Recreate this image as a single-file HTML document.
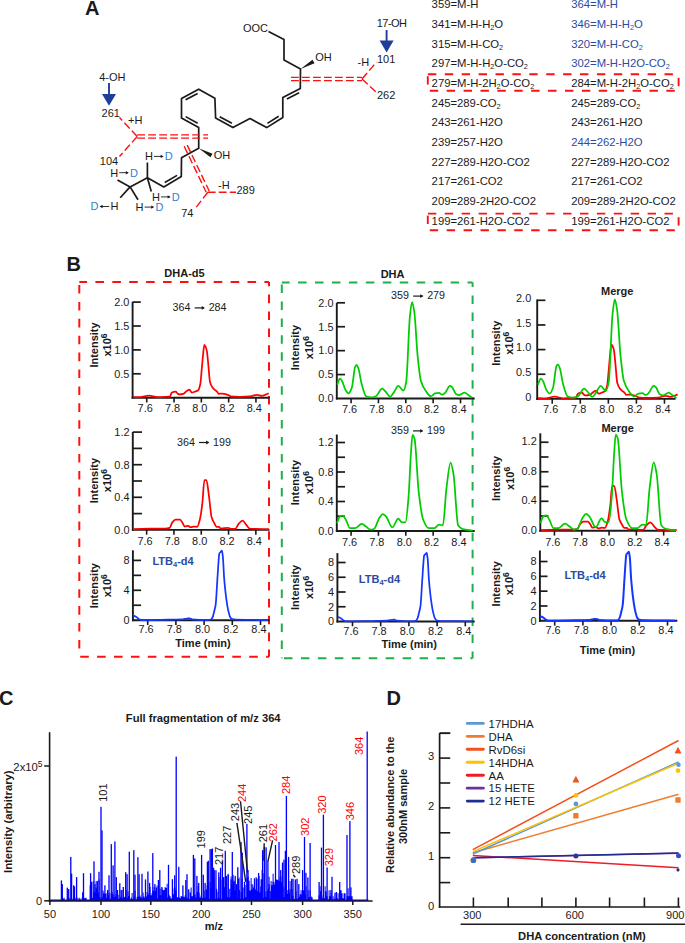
<!DOCTYPE html>
<html><head><meta charset="utf-8"><style>
html,body{margin:0;padding:0;background:#fff;width:685px;height:943px;overflow:hidden}
svg{display:block}
text{font-family:"Liberation Sans", sans-serif}
</style></head><body>
<svg width="685" height="943" viewBox="0 0 685 943" font-family='"Liberation Sans", sans-serif'>
<text x="85.00" y="14.80" font-size="20" font-weight="bold" fill="#1a1a1a" text-anchor="start" >A</text>
<polyline points="268.50,31.50 284.00,39.50 284.00,60.00 300.50,69.00 300.30,88.50 282.80,97.50 282.80,117.50 266.70,127.60 250.00,118.60 232.90,127.60 215.60,118.00 214.90,98.20 198.70,89.20 181.50,98.40 181.50,118.00 198.70,127.50 198.70,148.30 181.50,157.80 181.30,176.60 163.80,186.90 147.40,177.70 130.10,186.90" fill="none" stroke="#1a1a1a" stroke-width="1.7" stroke-linejoin="round" />
<line x1="299.14" y1="92.70" x2="286.89" y2="99.00" stroke="#1a1a1a" stroke-width="1.7" />
<line x1="278.68" y1="116.30" x2="267.41" y2="123.37" stroke="#1a1a1a" stroke-width="1.7" />
<line x1="231.86" y1="123.36" x2="219.75" y2="116.64" stroke="#1a1a1a" stroke-width="1.7" />
<line x1="197.63" y1="93.40" x2="185.59" y2="99.84" stroke="#1a1a1a" stroke-width="1.7" />
<line x1="185.63" y1="116.62" x2="197.67" y2="123.27" stroke="#1a1a1a" stroke-width="1.7" />
<line x1="177.05" y1="175.39" x2="164.80" y2="182.60" stroke="#1a1a1a" stroke-width="1.7" />
<polygon points="300.50,69.00 314.55,63.32 312.45,59.68" fill="#1a1a1a"/>
<polygon points="198.70,148.30 210.47,157.33 212.53,153.67" fill="#1a1a1a"/>
<line x1="147.40" y1="177.70" x2="147.40" y2="162.50" stroke="#1a1a1a" stroke-width="1.7" />
<line x1="147.40" y1="177.70" x2="151.30" y2="191.50" stroke="#1a1a1a" stroke-width="1.7" />
<line x1="130.10" y1="186.90" x2="117.50" y2="180.00" stroke="#1a1a1a" stroke-width="1.7" />
<line x1="130.10" y1="186.90" x2="120.20" y2="197.80" stroke="#1a1a1a" stroke-width="1.7" />
<line x1="130.10" y1="186.90" x2="138.00" y2="199.80" stroke="#1a1a1a" stroke-width="1.7" />
<line x1="291.00" y1="77.40" x2="362.00" y2="77.40" stroke="#ff1010" stroke-width="1.4" stroke-dasharray="7.8 3.2"/>
<line x1="291.00" y1="80.60" x2="362.00" y2="80.60" stroke="#ff1010" stroke-width="1.4" stroke-dasharray="7.8 3.2"/>
<line x1="362.00" y1="79.00" x2="376.50" y2="62.00" stroke="#ff1010" stroke-width="1.4" stroke-dasharray="7.8 3.2"/>
<line x1="362.00" y1="79.00" x2="376.50" y2="92.50" stroke="#ff1010" stroke-width="1.4" stroke-dasharray="7.8 3.2"/>
<line x1="137.20" y1="134.90" x2="208.00" y2="134.90" stroke="#ff1010" stroke-width="1.4" stroke-dasharray="7.8 3.2"/>
<line x1="137.20" y1="138.10" x2="208.00" y2="138.10" stroke="#ff1010" stroke-width="1.4" stroke-dasharray="7.8 3.2"/>
<line x1="137.20" y1="136.50" x2="119.50" y2="117.50" stroke="#ff1010" stroke-width="1.4" stroke-dasharray="7.8 3.2"/>
<line x1="137.20" y1="136.50" x2="119.50" y2="156.50" stroke="#ff1010" stroke-width="1.4" stroke-dasharray="7.8 3.2"/>
<line x1="184.20" y1="146.30" x2="206.20" y2="192.20" stroke="#ff1010" stroke-width="1.4" stroke-dasharray="7.8 3.2"/>
<line x1="187.20" y1="145.10" x2="209.20" y2="191.00" stroke="#ff1010" stroke-width="1.4" stroke-dasharray="7.8 3.2"/>
<line x1="207.80" y1="192.20" x2="236.00" y2="192.20" stroke="#ff1010" stroke-width="1.4" stroke-dasharray="7.8 3.2"/>
<line x1="207.80" y1="192.20" x2="195.20" y2="208.50" stroke="#ff1010" stroke-width="1.4" stroke-dasharray="7.8 3.2"/>
<line x1="109.00" y1="83.00" x2="109.00" y2="94.90" stroke="#1f3d99" stroke-width="1.9" />
<polygon points="102.00,93.90 116.00,93.90 109.00,105.70" fill="#1f3d99"/>
<line x1="386.60" y1="30.00" x2="386.60" y2="41.60" stroke="#1f3d99" stroke-width="1.9" />
<polygon points="379.60,40.60 393.60,40.60 386.60,52.60" fill="#1f3d99"/>
<text x="243.00" y="32.40" font-size="11" font-weight="normal" fill="#1a1a1a" text-anchor="start" >OOC</text>
<text x="315.20" y="61.30" font-size="11" font-weight="normal" fill="#1a1a1a" text-anchor="start" >OH</text>
<text x="376.80" y="26.60" font-size="11" font-weight="normal" fill="#1a1a1a" text-anchor="start" letter-spacing="-0.55">17-OH</text>
<text x="357.60" y="66.20" font-size="11" font-weight="normal" fill="#1a1a1a" text-anchor="start" >-H</text>
<text x="377.00" y="63.40" font-size="11" font-weight="normal" fill="#1a1a1a" text-anchor="start" >101</text>
<text x="377.00" y="98.60" font-size="11" font-weight="normal" fill="#1a1a1a" text-anchor="start" >262</text>
<text x="99.20" y="81.20" font-size="11" font-weight="normal" fill="#1a1a1a" text-anchor="start" >4-OH</text>
<text x="101.60" y="116.70" font-size="11" font-weight="normal" fill="#1a1a1a" text-anchor="start" >261</text>
<text x="128.10" y="123.90" font-size="11" font-weight="normal" fill="#1a1a1a" text-anchor="start" >+H</text>
<text x="99.80" y="165.00" font-size="11" font-weight="normal" fill="#1a1a1a" text-anchor="start" >104</text>
<text x="213.80" y="158.90" font-size="11" font-weight="normal" fill="#1a1a1a" text-anchor="start" >OH</text>
<text x="218.00" y="188.50" font-size="11" font-weight="normal" fill="#1a1a1a" text-anchor="start" >-H</text>
<text x="236.40" y="194.00" font-size="11" font-weight="normal" fill="#1a1a1a" text-anchor="start" >289</text>
<text x="181.20" y="216.90" font-size="11" font-weight="normal" fill="#1a1a1a" text-anchor="start" >74</text>
<text x="145.00" y="160.30" font-size="11" fill="#1a1a1a">H</text>
<line x1="154.00" y1="156.40" x2="162.60" y2="156.40" stroke="#1a1a1a" stroke-width="0.9"/>
<polygon points="160.60,154.70 163.60,156.40 160.60,158.10" fill="#1a1a1a"/>
<text x="164.80" y="160.30" font-size="11" fill="#2f80d0">D</text>
<text x="110.20" y="176.60" font-size="11" fill="#1a1a1a">H</text>
<line x1="119.20" y1="172.70" x2="127.80" y2="172.70" stroke="#1a1a1a" stroke-width="0.9"/>
<polygon points="125.80,171.00 128.80,172.70 125.80,174.40" fill="#1a1a1a"/>
<text x="130.00" y="176.60" font-size="11" fill="#2f80d0">D</text>
<text x="152.00" y="200.80" font-size="11" fill="#1a1a1a">H</text>
<line x1="161.00" y1="196.90" x2="169.60" y2="196.90" stroke="#1a1a1a" stroke-width="0.9"/>
<polygon points="167.60,195.20 170.60,196.90 167.60,198.60" fill="#1a1a1a"/>
<text x="171.80" y="200.80" font-size="11" fill="#2f80d0">D</text>
<text x="135.60" y="211.00" font-size="11" fill="#1a1a1a">H</text>
<line x1="144.60" y1="207.10" x2="153.20" y2="207.10" stroke="#1a1a1a" stroke-width="0.9"/>
<polygon points="151.20,205.40 154.20,207.10 151.20,208.80" fill="#1a1a1a"/>
<text x="155.40" y="211.00" font-size="11" fill="#2f80d0">D</text>
<text x="90.60" y="210.40" font-size="11" fill="#2f80d0">D</text>
<line x1="100.60" y1="206.50" x2="109.20" y2="206.50" stroke="#1a1a1a" stroke-width="0.9"/>
<polygon points="102.60,204.80 99.60,206.50 102.60,208.20" fill="#1a1a1a"/>
<text x="110.40" y="210.40" font-size="11" fill="#1a1a1a">H</text>
<text x="431.60" y="8.10" font-size="11.3" font-weight="normal" fill="#1a1a1a" text-anchor="start" >359=M-H</text>
<text x="571.20" y="8.10" font-size="11.3" font-weight="normal" fill="#2b4b9f" text-anchor="start" >364=M-H</text>
<text x="431.60" y="27.80" font-size="11.3" font-weight="normal" fill="#1a1a1a" text-anchor="start" >341=M-H-H<tspan font-size="7.3" dy="2.0">2</tspan><tspan dy="-2.0">​</tspan>O</text>
<text x="571.20" y="27.80" font-size="11.3" font-weight="normal" fill="#2b4b9f" text-anchor="start" >346=M-H-H<tspan font-size="7.3" dy="2.0">2</tspan><tspan dy="-2.0">​</tspan>O</text>
<text x="431.60" y="47.50" font-size="11.3" font-weight="normal" fill="#1a1a1a" text-anchor="start" >315=M-H-CO<tspan font-size="7.3" dy="2.0">2</tspan><tspan dy="-2.0">​</tspan></text>
<text x="571.20" y="47.50" font-size="11.3" font-weight="normal" fill="#2b4b9f" text-anchor="start" >320=M-H-CO<tspan font-size="7.3" dy="2.0">2</tspan><tspan dy="-2.0">​</tspan></text>
<text x="431.60" y="67.20" font-size="11.3" font-weight="normal" fill="#1a1a1a" text-anchor="start" >297=M-H-H<tspan font-size="7.3" dy="2.0">2</tspan><tspan dy="-2.0">​</tspan>O-CO<tspan font-size="7.3" dy="2.0">2</tspan><tspan dy="-2.0">​</tspan></text>
<text x="571.20" y="67.20" font-size="11.3" font-weight="normal" fill="#2b4b9f" text-anchor="start" >302=M-H-H2O-CO<tspan font-size="7.3" dy="2.0">2</tspan><tspan dy="-2.0">​</tspan></text>
<text x="431.60" y="86.90" font-size="11.3" font-weight="normal" fill="#1a1a1a" text-anchor="start" >279=M-H-2H<tspan font-size="7.3" dy="2.0">2</tspan><tspan dy="-2.0">​</tspan>O-CO<tspan font-size="7.3" dy="2.0">2</tspan><tspan dy="-2.0">​</tspan></text>
<text x="571.20" y="86.90" font-size="11.3" font-weight="normal" fill="#1a1a1a" text-anchor="start" >284=M-H-2H<tspan font-size="7.3" dy="2.0">2</tspan><tspan dy="-2.0">​</tspan>O-CO<tspan font-size="7.3" dy="2.0">2</tspan><tspan dy="-2.0">​</tspan></text>
<text x="431.60" y="106.60" font-size="11.3" font-weight="normal" fill="#1a1a1a" text-anchor="start" >245=289-CO<tspan font-size="7.3" dy="2.0">2</tspan><tspan dy="-2.0">​</tspan></text>
<text x="571.20" y="106.60" font-size="11.3" font-weight="normal" fill="#1a1a1a" text-anchor="start" >245=289-CO<tspan font-size="7.3" dy="2.0">2</tspan><tspan dy="-2.0">​</tspan></text>
<text x="431.60" y="126.30" font-size="11.3" font-weight="normal" fill="#1a1a1a" text-anchor="start" >243=261-H2O</text>
<text x="571.20" y="126.30" font-size="11.3" font-weight="normal" fill="#1a1a1a" text-anchor="start" >243=261-H2O</text>
<text x="431.60" y="146.00" font-size="11.3" font-weight="normal" fill="#1a1a1a" text-anchor="start" >239=257-H2O</text>
<text x="571.20" y="146.00" font-size="11.3" font-weight="normal" fill="#2b4b9f" text-anchor="start" >244=262-H2O</text>
<text x="431.60" y="165.70" font-size="11.3" font-weight="normal" fill="#1a1a1a" text-anchor="start" >227=289-H2O-CO2</text>
<text x="571.20" y="165.70" font-size="11.3" font-weight="normal" fill="#1a1a1a" text-anchor="start" >227=289-H2O-CO2</text>
<text x="431.60" y="185.40" font-size="11.3" font-weight="normal" fill="#1a1a1a" text-anchor="start" >217=261-CO2</text>
<text x="571.20" y="185.40" font-size="11.3" font-weight="normal" fill="#1a1a1a" text-anchor="start" >217=261-CO2</text>
<text x="431.60" y="205.10" font-size="11.3" font-weight="normal" fill="#1a1a1a" text-anchor="start" >209=289-2H2O-CO2</text>
<text x="571.20" y="205.10" font-size="11.3" font-weight="normal" fill="#1a1a1a" text-anchor="start" >209=289-2H2O-CO2</text>
<text x="431.60" y="224.80" font-size="11.3" font-weight="normal" fill="#1a1a1a" text-anchor="start" >199=261-H2O-CO2</text>
<text x="571.20" y="224.80" font-size="11.3" font-weight="normal" fill="#1a1a1a" text-anchor="start" >199=261-H2O-CO2</text>
<line x1="427.80" y1="74.20" x2="678.60" y2="74.20" stroke="#ff1010" stroke-width="1.9" stroke-dasharray="8.4 8.5" stroke-dashoffset="16.80"/>
<line x1="678.60" y1="74.20" x2="678.60" y2="90.80" stroke="#ff1010" stroke-width="1.9" stroke-dasharray="8.4 8.5" stroke-dashoffset="13.30"/>
<line x1="427.80" y1="90.80" x2="678.60" y2="90.80" stroke="#ff1010" stroke-width="1.9" stroke-dasharray="8.4 8.5" stroke-dashoffset="14.90"/>
<line x1="427.80" y1="74.20" x2="427.80" y2="90.80" stroke="#ff1010" stroke-width="1.9" stroke-dasharray="8.4 8.5" stroke-dashoffset="14.90"/>
<line x1="427.80" y1="213.60" x2="678.60" y2="213.60" stroke="#ff1010" stroke-width="1.9" stroke-dasharray="8.4 8.5" stroke-dashoffset="16.80"/>
<line x1="678.60" y1="213.60" x2="678.60" y2="230.20" stroke="#ff1010" stroke-width="1.9" stroke-dasharray="8.4 8.5" stroke-dashoffset="13.30"/>
<line x1="427.80" y1="230.20" x2="678.60" y2="230.20" stroke="#ff1010" stroke-width="1.9" stroke-dasharray="8.4 8.5" stroke-dashoffset="14.90"/>
<line x1="427.80" y1="213.60" x2="427.80" y2="230.20" stroke="#ff1010" stroke-width="1.9" stroke-dasharray="8.4 8.5" stroke-dashoffset="14.90"/>
<text x="66.60" y="270.80" font-size="20" font-weight="bold" fill="#1a1a1a" text-anchor="start" >B</text>
<line x1="79.30" y1="282.00" x2="269.00" y2="282.00" stroke="#ff1010" stroke-width="2.0" stroke-dasharray="8.6 8.3" stroke-dashoffset="0.80"/>
<line x1="269.00" y1="282.00" x2="269.00" y2="656.80" stroke="#ff1010" stroke-width="2.0" stroke-dasharray="8.6 8.3" stroke-dashoffset="4.30"/>
<line x1="79.30" y1="656.80" x2="269.00" y2="656.80" stroke="#ff1010" stroke-width="2.0" stroke-dasharray="8.6 8.3" stroke-dashoffset="16.00"/>
<line x1="79.30" y1="282.00" x2="79.30" y2="656.80" stroke="#ff1010" stroke-width="2.0" stroke-dasharray="8.6 8.3" stroke-dashoffset="13.90"/>
<line x1="281.80" y1="282.60" x2="472.60" y2="282.60" stroke="#1fb04b" stroke-width="2.0" stroke-dasharray="8.5 8.45" stroke-dashoffset="0.70"/>
<line x1="472.60" y1="282.60" x2="472.60" y2="658.20" stroke="#1fb04b" stroke-width="2.0" stroke-dasharray="8.5 8.45" stroke-dashoffset="4.00"/>
<line x1="281.80" y1="658.20" x2="472.60" y2="658.20" stroke="#1fb04b" stroke-width="2.0" stroke-dasharray="8.5 8.45" stroke-dashoffset="14.75"/>
<line x1="281.80" y1="282.60" x2="281.80" y2="658.20" stroke="#1fb04b" stroke-width="2.0" stroke-dasharray="8.5 8.45" stroke-dashoffset="15.05"/>
<text x="184.50" y="276.80" font-size="11" font-weight="bold" fill="#1a1a1a" text-anchor="middle" >DHA-d5</text>
<text x="392.60" y="277.80" font-size="11" font-weight="bold" fill="#1a1a1a" text-anchor="middle" >DHA</text>
<line x1="132.60" y1="301.80" x2="132.60" y2="398.70" stroke="#1a1a1a" stroke-width="1.9" />
<line x1="131.70" y1="397.70" x2="269.50" y2="397.70" stroke="#1a1a1a" stroke-width="1.9" />
<line x1="132.60" y1="373.80" x2="140.80" y2="373.80" stroke="#1a1a1a" stroke-width="1.7" />
<line x1="132.60" y1="349.90" x2="140.80" y2="349.90" stroke="#1a1a1a" stroke-width="1.7" />
<line x1="132.60" y1="326.00" x2="140.80" y2="326.00" stroke="#1a1a1a" stroke-width="1.7" />
<line x1="132.60" y1="302.10" x2="140.80" y2="302.10" stroke="#1a1a1a" stroke-width="1.7" />
<text x="129.30" y="305.90" font-size="10.9" font-weight="normal" fill="#1a1a1a" text-anchor="end" >2.0</text>
<text x="129.30" y="329.80" font-size="10.9" font-weight="normal" fill="#1a1a1a" text-anchor="end" >1.5</text>
<text x="129.30" y="353.70" font-size="10.9" font-weight="normal" fill="#1a1a1a" text-anchor="end" >1.0</text>
<text x="129.30" y="377.60" font-size="10.9" font-weight="normal" fill="#1a1a1a" text-anchor="end" >0.5</text>
<line x1="146.75" y1="397.70" x2="146.75" y2="402.50" stroke="#1a1a1a" stroke-width="1.6" />
<text x="145.15" y="412.30" font-size="10.9" font-weight="normal" fill="#1a1a1a" text-anchor="middle" >7.6</text>
<line x1="174.05" y1="397.70" x2="174.05" y2="402.50" stroke="#1a1a1a" stroke-width="1.6" />
<text x="172.45" y="412.30" font-size="10.9" font-weight="normal" fill="#1a1a1a" text-anchor="middle" >7.8</text>
<line x1="201.35" y1="397.70" x2="201.35" y2="402.50" stroke="#1a1a1a" stroke-width="1.6" />
<text x="199.75" y="412.30" font-size="10.9" font-weight="normal" fill="#1a1a1a" text-anchor="middle" >8.0</text>
<line x1="228.65" y1="397.70" x2="228.65" y2="402.50" stroke="#1a1a1a" stroke-width="1.6" />
<text x="227.05" y="412.30" font-size="10.9" font-weight="normal" fill="#1a1a1a" text-anchor="middle" >8.2</text>
<line x1="255.95" y1="397.70" x2="255.95" y2="402.50" stroke="#1a1a1a" stroke-width="1.6" />
<text x="254.35" y="412.30" font-size="10.9" font-weight="normal" fill="#1a1a1a" text-anchor="middle" >8.4</text>
<path d="M133.00,396.90 C135.33,397.00 137.67,397.20 140.00,397.20 C143.00,397.20 146.00,395.60 149.00,395.60 C151.83,395.60 154.67,397.10 157.50,397.10 C160.00,397.10 162.50,396.95 165.00,396.80 C166.70,396.70 168.40,396.68 170.10,396.30 C170.60,396.19 171.10,392.95 171.60,392.70 C172.97,392.01 174.33,391.70 175.70,391.70 C176.40,391.70 177.10,393.46 177.80,393.80 C178.30,394.04 178.80,394.30 179.30,394.30 C180.67,394.30 182.03,394.10 183.40,393.80 C184.43,393.57 185.47,391.85 186.50,391.20 C187.50,390.57 188.50,389.70 189.50,389.70 C190.27,389.70 191.03,392.70 191.80,392.70 C192.73,392.70 193.67,392.06 194.60,391.70 C195.80,391.24 197.00,391.14 198.20,390.20 C198.90,389.65 199.60,387.31 200.30,384.00 C200.80,381.64 201.30,374.02 201.80,368.70 C202.20,364.44 202.60,359.15 203.00,355.40 C203.43,351.34 203.87,344.90 204.30,344.90 C204.83,344.90 205.37,346.25 205.90,347.50 C206.23,348.28 206.57,349.54 206.90,351.30 C207.40,353.95 207.90,360.76 208.40,365.70 C208.93,370.97 209.47,379.95 210.00,382.00 C210.83,385.21 211.67,386.44 212.50,387.60 C213.37,388.80 214.23,389.46 215.10,390.20 C215.77,390.77 216.43,391.04 217.10,391.70 C217.60,392.20 218.10,393.80 218.60,393.80 C219.80,393.80 221.00,393.50 222.20,393.50 C223.57,393.50 224.93,393.94 226.30,394.30 C227.17,394.53 228.03,394.87 228.90,395.30 C229.40,395.55 229.90,396.24 230.40,396.30 C233.60,396.69 236.80,396.80 240.00,396.80 C243.33,396.80 246.67,396.64 250.00,396.40 C252.33,396.23 254.67,394.80 257.00,394.80 C258.67,394.80 260.33,395.80 262.00,395.80 C264.23,395.80 266.47,394.13 268.70,393.30" fill="none" stroke="#ff0000" stroke-width="1.75" stroke-linejoin="round"/>
<text x="172.60" y="311.00" font-size="10.7" fill="#1a1a1a">364</text>
<line x1="194.65" y1="307.90" x2="203.95" y2="307.90" stroke="#1a1a1a" stroke-width="1.2"/>
<polygon points="201.75,306.00 204.95,307.90 201.75,309.80" fill="#1a1a1a"/>
<text x="208.65" y="311.00" font-size="10.7" fill="#1a1a1a">284</text>
<text transform="translate(98.00,345.00) rotate(-90)" font-size="11" font-weight="bold" fill="#1a1a1a" text-anchor="middle">Intensity</text>
<text transform="translate(111.30,345.00) rotate(-90)" font-size="11" font-weight="bold" fill="#1a1a1a" text-anchor="middle">x10<tspan font-size="8.5" dy="-4">6</tspan></text>
<line x1="132.80" y1="432.00" x2="132.80" y2="530.90" stroke="#1a1a1a" stroke-width="1.9" />
<line x1="131.90" y1="529.90" x2="269.50" y2="529.90" stroke="#1a1a1a" stroke-width="1.9" />
<line x1="132.80" y1="513.60" x2="142.00" y2="513.60" stroke="#1a1a1a" stroke-width="1.7" />
<line x1="132.80" y1="497.30" x2="142.00" y2="497.30" stroke="#1a1a1a" stroke-width="1.7" />
<line x1="132.80" y1="481.00" x2="142.00" y2="481.00" stroke="#1a1a1a" stroke-width="1.7" />
<line x1="132.80" y1="464.70" x2="142.00" y2="464.70" stroke="#1a1a1a" stroke-width="1.7" />
<line x1="132.80" y1="448.40" x2="142.00" y2="448.40" stroke="#1a1a1a" stroke-width="1.7" />
<line x1="132.80" y1="432.10" x2="142.00" y2="432.10" stroke="#1a1a1a" stroke-width="1.7" />
<text x="129.50" y="435.90" font-size="10.9" font-weight="normal" fill="#1a1a1a" text-anchor="end" >1.2</text>
<text x="129.50" y="468.50" font-size="10.9" font-weight="normal" fill="#1a1a1a" text-anchor="end" >0.8</text>
<text x="129.50" y="501.10" font-size="10.9" font-weight="normal" fill="#1a1a1a" text-anchor="end" >0.4</text>
<text x="129.50" y="533.70" font-size="10.9" font-weight="normal" fill="#1a1a1a" text-anchor="end" >0.0</text>
<line x1="146.65" y1="529.90" x2="146.65" y2="534.70" stroke="#1a1a1a" stroke-width="1.6" />
<text x="145.05" y="544.50" font-size="10.9" font-weight="normal" fill="#1a1a1a" text-anchor="middle" >7.6</text>
<line x1="173.95" y1="529.90" x2="173.95" y2="534.70" stroke="#1a1a1a" stroke-width="1.6" />
<text x="172.35" y="544.50" font-size="10.9" font-weight="normal" fill="#1a1a1a" text-anchor="middle" >7.8</text>
<line x1="201.25" y1="529.90" x2="201.25" y2="534.70" stroke="#1a1a1a" stroke-width="1.6" />
<text x="199.65" y="544.50" font-size="10.9" font-weight="normal" fill="#1a1a1a" text-anchor="middle" >8.0</text>
<line x1="228.55" y1="529.90" x2="228.55" y2="534.70" stroke="#1a1a1a" stroke-width="1.6" />
<text x="226.95" y="544.50" font-size="10.9" font-weight="normal" fill="#1a1a1a" text-anchor="middle" >8.2</text>
<line x1="255.85" y1="529.90" x2="255.85" y2="534.70" stroke="#1a1a1a" stroke-width="1.6" />
<text x="254.25" y="544.50" font-size="10.9" font-weight="normal" fill="#1a1a1a" text-anchor="middle" >8.4</text>
<path d="M133.00,529.10 C138.67,528.97 144.33,528.80 150.00,528.70 C155.00,528.62 160.00,528.64 165.00,528.50 C166.53,528.46 168.07,528.27 169.60,527.80 C170.47,527.53 171.33,523.67 172.20,522.60 C173.30,521.24 174.40,519.70 175.50,519.70 C177.03,519.70 178.57,519.70 180.10,519.70 C180.97,519.70 181.83,521.91 182.70,523.20 C183.37,524.19 184.03,526.50 184.70,526.50 C185.80,526.50 186.90,525.80 188.00,525.80 C188.87,525.80 189.73,527.20 190.60,527.20 C191.70,527.20 192.80,526.50 193.90,526.50 C195.00,526.50 196.10,526.80 197.20,526.80 C198.07,526.80 198.93,523.18 199.80,519.90 C200.67,516.62 201.53,510.09 202.40,502.80 C203.07,497.19 203.73,480.20 204.40,480.20 C205.07,480.20 205.73,480.20 206.40,480.20 C207.27,480.20 208.13,490.22 209.00,496.30 C209.87,502.38 210.73,514.31 211.60,517.30 C212.50,520.41 213.40,521.52 214.30,523.20 C215.03,524.57 215.77,526.80 216.50,526.80 C217.30,526.80 218.10,526.80 218.90,526.80 C219.53,526.80 220.17,528.50 220.80,528.50 C223.23,528.50 225.67,527.80 228.10,527.80 C228.97,527.80 229.83,528.90 230.70,528.90 C232.23,528.90 233.77,528.90 235.30,528.90 C236.40,528.90 237.50,525.10 238.60,523.90 C239.90,522.48 241.20,520.60 242.50,520.60 C243.83,520.60 245.17,523.75 246.50,525.20 C247.57,526.36 248.63,528.34 249.70,528.50 C251.47,528.77 253.23,528.85 255.00,528.90 C259.67,529.02 264.33,529.03 269.00,529.10" fill="none" stroke="#ff0000" stroke-width="1.75" stroke-linejoin="round"/>
<text x="177.00" y="445.60" font-size="10.7" fill="#1a1a1a">364</text>
<line x1="199.05" y1="442.50" x2="208.35" y2="442.50" stroke="#1a1a1a" stroke-width="1.2"/>
<polygon points="206.15,440.60 209.35,442.50 206.15,444.40" fill="#1a1a1a"/>
<text x="213.05" y="445.60" font-size="10.7" fill="#1a1a1a">199</text>
<text transform="translate(98.00,480.60) rotate(-90)" font-size="11" font-weight="bold" fill="#1a1a1a" text-anchor="middle">Intensity</text>
<text transform="translate(111.30,480.60) rotate(-90)" font-size="11" font-weight="bold" fill="#1a1a1a" text-anchor="middle">x10<tspan font-size="8.5" dy="-4">6</tspan></text>
<line x1="132.90" y1="550.30" x2="132.90" y2="621.20" stroke="#1a1a1a" stroke-width="1.9" />
<line x1="132.00" y1="620.20" x2="269.50" y2="620.20" stroke="#1a1a1a" stroke-width="1.9" />
<line x1="132.90" y1="605.25" x2="141.10" y2="605.25" stroke="#1a1a1a" stroke-width="1.7" />
<line x1="132.90" y1="590.30" x2="141.10" y2="590.30" stroke="#1a1a1a" stroke-width="1.7" />
<line x1="132.90" y1="575.35" x2="141.10" y2="575.35" stroke="#1a1a1a" stroke-width="1.7" />
<line x1="132.90" y1="560.40" x2="141.10" y2="560.40" stroke="#1a1a1a" stroke-width="1.7" />
<text x="129.60" y="564.20" font-size="10.9" font-weight="normal" fill="#1a1a1a" text-anchor="end" >8</text>
<text x="129.60" y="594.10" font-size="10.9" font-weight="normal" fill="#1a1a1a" text-anchor="end" >4</text>
<text x="129.60" y="624.00" font-size="10.9" font-weight="normal" fill="#1a1a1a" text-anchor="end" >0</text>
<line x1="147.70" y1="620.20" x2="147.70" y2="625.00" stroke="#1a1a1a" stroke-width="1.6" />
<text x="146.10" y="633.00" font-size="10.9" font-weight="normal" fill="#1a1a1a" text-anchor="middle" >7.6</text>
<line x1="175.90" y1="620.20" x2="175.90" y2="625.00" stroke="#1a1a1a" stroke-width="1.6" />
<text x="174.30" y="633.00" font-size="10.9" font-weight="normal" fill="#1a1a1a" text-anchor="middle" >7.8</text>
<line x1="204.10" y1="620.20" x2="204.10" y2="625.00" stroke="#1a1a1a" stroke-width="1.6" />
<text x="202.50" y="633.00" font-size="10.9" font-weight="normal" fill="#1a1a1a" text-anchor="middle" >8.0</text>
<line x1="232.30" y1="620.20" x2="232.30" y2="625.00" stroke="#1a1a1a" stroke-width="1.6" />
<text x="230.70" y="633.00" font-size="10.9" font-weight="normal" fill="#1a1a1a" text-anchor="middle" >8.2</text>
<line x1="260.50" y1="620.20" x2="260.50" y2="625.00" stroke="#1a1a1a" stroke-width="1.6" />
<text x="258.90" y="633.00" font-size="10.9" font-weight="normal" fill="#1a1a1a" text-anchor="middle" >8.4</text>
<path d="M133.00,615.50 C134.00,615.93 135.00,616.24 136.00,616.80 C137.00,617.36 138.00,618.71 139.00,619.20 C139.83,619.61 140.67,620.10 141.50,620.10 C147.67,620.10 153.83,620.00 160.00,619.90 C164.00,619.84 168.00,619.70 172.00,619.60 C175.67,619.50 179.33,619.50 183.00,619.30 C184.33,619.23 185.67,618.65 187.00,618.50 C187.83,618.41 188.67,618.30 189.50,618.30 C190.33,618.30 191.17,619.30 192.00,619.40 C194.67,619.74 197.33,619.84 200.00,619.90 C202.67,619.96 205.33,620.00 208.00,620.00 C209.00,620.00 210.00,619.82 211.00,619.50 C211.57,619.32 212.13,618.20 212.70,617.00 C213.23,615.87 213.77,613.25 214.30,611.00 C214.77,609.03 215.23,607.63 215.70,604.30 C216.27,600.26 216.83,587.18 217.40,578.90 C217.93,571.10 218.47,561.30 219.00,556.00 C219.10,555.01 219.20,553.74 219.30,553.50 C219.73,552.46 220.17,552.48 220.60,552.00 C221.03,551.52 221.47,550.60 221.90,550.60 C222.20,550.60 222.50,553.45 222.80,556.00 C223.27,559.96 223.73,573.38 224.20,578.90 C225.17,590.33 226.13,598.22 227.10,604.30 C227.57,607.24 228.03,609.57 228.50,611.50 C229.03,613.71 229.57,616.12 230.10,617.00 C230.80,618.15 231.50,619.02 232.20,619.20 C233.47,619.52 234.73,619.66 236.00,619.70 C240.67,619.84 245.33,619.84 250.00,619.90 C256.00,619.98 262.00,620.03 268.00,620.10" fill="none" stroke="#1437ff" stroke-width="1.75" stroke-linejoin="round"/>
<text x="152.4" y="564.7" font-size="11" font-weight="bold" fill="#2b4b9f">LTB<tspan font-size="7.5" dy="2.2">4</tspan><tspan dy="-2.2">-d4</tspan></text>
<text x="203.00" y="647.40" font-size="11" font-weight="bold" fill="#1a1a1a" text-anchor="middle" >Time (min)</text>
<text transform="translate(98.00,585.70) rotate(-90)" font-size="11" font-weight="bold" fill="#1a1a1a" text-anchor="middle">Intensity</text>
<text transform="translate(111.30,585.70) rotate(-90)" font-size="11" font-weight="bold" fill="#1a1a1a" text-anchor="middle">x10<tspan font-size="8.5" dy="-4">6</tspan></text>
<line x1="336.80" y1="302.90" x2="336.80" y2="399.50" stroke="#1a1a1a" stroke-width="1.9" />
<line x1="335.90" y1="398.50" x2="474.70" y2="398.50" stroke="#1a1a1a" stroke-width="1.9" />
<line x1="336.80" y1="374.57" x2="345.00" y2="374.57" stroke="#1a1a1a" stroke-width="1.7" />
<line x1="336.80" y1="350.65" x2="345.00" y2="350.65" stroke="#1a1a1a" stroke-width="1.7" />
<line x1="336.80" y1="326.73" x2="345.00" y2="326.73" stroke="#1a1a1a" stroke-width="1.7" />
<line x1="336.80" y1="302.80" x2="345.00" y2="302.80" stroke="#1a1a1a" stroke-width="1.7" />
<text x="333.50" y="306.60" font-size="10.9" font-weight="normal" fill="#1a1a1a" text-anchor="end" >2.0</text>
<text x="333.50" y="330.53" font-size="10.9" font-weight="normal" fill="#1a1a1a" text-anchor="end" >1.5</text>
<text x="333.50" y="354.45" font-size="10.9" font-weight="normal" fill="#1a1a1a" text-anchor="end" >1.0</text>
<text x="333.50" y="378.38" font-size="10.9" font-weight="normal" fill="#1a1a1a" text-anchor="end" >0.5</text>
<text x="333.50" y="402.30" font-size="10.9" font-weight="normal" fill="#1a1a1a" text-anchor="end" >0.0</text>
<line x1="351.08" y1="398.50" x2="351.08" y2="403.30" stroke="#1a1a1a" stroke-width="1.6" />
<text x="349.48" y="413.20" font-size="10.9" font-weight="normal" fill="#1a1a1a" text-anchor="middle" >7.6</text>
<line x1="378.44" y1="398.50" x2="378.44" y2="403.30" stroke="#1a1a1a" stroke-width="1.6" />
<text x="376.84" y="413.20" font-size="10.9" font-weight="normal" fill="#1a1a1a" text-anchor="middle" >7.8</text>
<line x1="405.80" y1="398.50" x2="405.80" y2="403.30" stroke="#1a1a1a" stroke-width="1.6" />
<text x="404.20" y="413.20" font-size="10.9" font-weight="normal" fill="#1a1a1a" text-anchor="middle" >8.0</text>
<line x1="433.16" y1="398.50" x2="433.16" y2="403.30" stroke="#1a1a1a" stroke-width="1.6" />
<text x="431.56" y="413.20" font-size="10.9" font-weight="normal" fill="#1a1a1a" text-anchor="middle" >8.2</text>
<line x1="460.52" y1="398.50" x2="460.52" y2="403.30" stroke="#1a1a1a" stroke-width="1.6" />
<text x="458.92" y="413.20" font-size="10.9" font-weight="normal" fill="#1a1a1a" text-anchor="middle" >8.4</text>
<path d="M337.20,384.60 C338.10,382.63 339.00,378.70 339.90,378.70 C340.60,378.70 341.30,379.88 342.00,380.90 C343.10,382.50 344.20,387.84 345.30,389.60 C346.40,391.36 347.50,393.40 348.60,393.40 C349.70,393.40 350.80,390.50 351.90,387.40 C353.00,384.30 354.10,368.54 355.20,366.60 C355.70,365.72 356.20,364.90 356.70,364.90 C357.30,364.90 357.90,367.07 358.50,368.80 C359.57,371.88 360.63,380.43 361.70,384.20 C363.17,389.38 364.63,395.64 366.10,396.20 C367.93,396.91 369.77,397.30 371.60,397.30 C373.07,397.30 374.53,396.79 376.00,396.20 C378.03,395.38 380.07,388.50 382.10,388.50 C383.33,388.50 384.57,390.59 385.80,391.80 C387.27,393.24 388.73,396.60 390.20,396.60 C391.30,396.60 392.40,394.28 393.50,392.90 C395.10,390.89 396.70,385.90 398.30,385.90 C400.00,385.90 401.70,390.70 403.40,390.70 C404.33,390.70 405.27,386.78 406.20,382.00 C407.43,375.68 408.67,327.59 409.90,316.30 C410.63,309.59 411.37,302.00 412.10,302.00 C412.83,302.00 413.57,307.13 414.30,311.90 C415.40,319.06 416.50,345.04 417.60,355.70 C418.70,366.36 419.80,377.22 420.90,380.90 C422.70,386.93 424.50,389.42 426.30,391.80 C427.77,393.74 429.23,396.20 430.70,396.20 C432.17,396.20 433.63,393.71 435.10,393.40 C436.40,393.13 437.70,392.90 439.00,392.90 C440.03,392.90 441.07,394.70 442.10,394.70 C443.07,394.70 444.03,393.77 445.00,393.00 C446.67,391.67 448.33,385.90 450.00,385.90 C450.67,385.90 451.33,386.47 452.00,387.00 C453.30,388.04 454.60,393.28 455.90,394.00 C457.00,394.61 458.10,395.10 459.20,395.10 C461.03,395.10 462.87,392.50 464.70,392.50 C465.80,392.50 466.90,393.95 468.00,394.70 C469.43,395.68 470.87,396.70 472.30,397.70" fill="none" stroke="#00cc00" stroke-width="1.75" stroke-linejoin="round"/>
<text x="391.10" y="299.20" font-size="10.7" fill="#1a1a1a">359</text>
<line x1="413.15" y1="296.10" x2="422.45" y2="296.10" stroke="#1a1a1a" stroke-width="1.2"/>
<polygon points="420.25,294.20 423.45,296.10 420.25,298.00" fill="#1a1a1a"/>
<text x="427.15" y="299.20" font-size="10.7" fill="#1a1a1a">279</text>
<text transform="translate(299.20,347.60) rotate(-90)" font-size="11" font-weight="bold" fill="#1a1a1a" text-anchor="middle">Intensity</text>
<text transform="translate(312.50,347.60) rotate(-90)" font-size="11" font-weight="bold" fill="#1a1a1a" text-anchor="middle">x10<tspan font-size="8.5" dy="-4">6</tspan></text>
<line x1="336.80" y1="434.50" x2="336.80" y2="532.00" stroke="#1a1a1a" stroke-width="1.9" />
<line x1="335.90" y1="531.00" x2="474.70" y2="531.00" stroke="#1a1a1a" stroke-width="1.9" />
<line x1="336.80" y1="516.25" x2="345.00" y2="516.25" stroke="#1a1a1a" stroke-width="1.7" />
<line x1="336.80" y1="501.50" x2="345.00" y2="501.50" stroke="#1a1a1a" stroke-width="1.7" />
<line x1="336.80" y1="486.75" x2="345.00" y2="486.75" stroke="#1a1a1a" stroke-width="1.7" />
<line x1="336.80" y1="472.00" x2="345.00" y2="472.00" stroke="#1a1a1a" stroke-width="1.7" />
<line x1="336.80" y1="457.25" x2="345.00" y2="457.25" stroke="#1a1a1a" stroke-width="1.7" />
<line x1="336.80" y1="442.50" x2="345.00" y2="442.50" stroke="#1a1a1a" stroke-width="1.7" />
<text x="333.50" y="446.30" font-size="10.9" font-weight="normal" fill="#1a1a1a" text-anchor="end" >1.2</text>
<text x="333.50" y="475.80" font-size="10.9" font-weight="normal" fill="#1a1a1a" text-anchor="end" >0.8</text>
<text x="333.50" y="505.30" font-size="10.9" font-weight="normal" fill="#1a1a1a" text-anchor="end" >0.4</text>
<text x="333.50" y="534.80" font-size="10.9" font-weight="normal" fill="#1a1a1a" text-anchor="end" >0.0</text>
<line x1="351.08" y1="531.00" x2="351.08" y2="535.80" stroke="#1a1a1a" stroke-width="1.6" />
<text x="349.48" y="545.60" font-size="10.9" font-weight="normal" fill="#1a1a1a" text-anchor="middle" >7.6</text>
<line x1="378.44" y1="531.00" x2="378.44" y2="535.80" stroke="#1a1a1a" stroke-width="1.6" />
<text x="376.84" y="545.60" font-size="10.9" font-weight="normal" fill="#1a1a1a" text-anchor="middle" >7.8</text>
<line x1="405.80" y1="531.00" x2="405.80" y2="535.80" stroke="#1a1a1a" stroke-width="1.6" />
<text x="404.20" y="545.60" font-size="10.9" font-weight="normal" fill="#1a1a1a" text-anchor="middle" >8.0</text>
<line x1="433.16" y1="531.00" x2="433.16" y2="535.80" stroke="#1a1a1a" stroke-width="1.6" />
<text x="431.56" y="545.60" font-size="10.9" font-weight="normal" fill="#1a1a1a" text-anchor="middle" >8.2</text>
<line x1="460.52" y1="531.00" x2="460.52" y2="535.80" stroke="#1a1a1a" stroke-width="1.6" />
<text x="458.92" y="545.60" font-size="10.9" font-weight="normal" fill="#1a1a1a" text-anchor="middle" >8.4</text>
<path d="M336.90,523.30 C337.90,521.07 338.90,517.14 339.90,516.60 C340.87,516.08 341.83,515.70 342.80,515.70 C343.87,515.70 344.93,518.28 346.00,520.00 C347.33,522.15 348.67,528.20 350.00,528.20 C351.67,528.20 353.33,528.20 355.00,528.20 C357.27,528.20 359.53,523.90 361.80,523.90 C363.20,523.90 364.60,525.57 366.00,526.50 C367.50,527.49 369.00,529.70 370.50,529.70 C371.67,529.70 372.83,529.40 374.00,529.00 C375.77,528.39 377.53,520.47 379.30,518.00 C380.47,516.37 381.63,514.20 382.80,514.20 C383.87,514.20 384.93,515.47 386.00,516.50 C388.13,518.56 390.27,527.40 392.40,527.40 C394.33,527.40 396.27,518.60 398.20,518.60 C399.47,518.60 400.73,522.40 402.00,522.40 C403.17,522.40 404.33,522.40 405.50,522.40 C406.50,522.40 407.50,509.11 408.50,497.60 C409.33,488.01 410.17,463.52 411.00,452.00 C411.50,445.09 412.00,434.80 412.50,434.80 C413.17,434.80 413.83,436.52 414.50,438.50 C415.90,442.65 417.30,479.99 418.70,491.80 C420.17,504.18 421.63,515.84 423.10,519.50 C425.03,524.32 426.97,528.20 428.90,528.20 C430.77,528.20 432.63,528.20 434.50,528.20 C436.03,528.20 437.57,524.70 439.10,524.70 C440.37,524.70 441.63,525.30 442.90,525.30 C444.07,525.30 445.23,498.00 446.40,488.80 C447.80,477.76 449.20,462.50 450.60,462.50 C451.57,462.50 452.53,468.67 453.50,474.20 C455.03,482.97 456.57,522.86 458.10,525.30 C459.57,527.64 461.03,528.69 462.50,529.10 C465.90,530.04 469.30,530.10 472.70,530.60" fill="none" stroke="#00cc00" stroke-width="1.75" stroke-linejoin="round"/>
<text x="391.00" y="434.00" font-size="10.7" fill="#1a1a1a">359</text>
<line x1="413.05" y1="430.90" x2="422.35" y2="430.90" stroke="#1a1a1a" stroke-width="1.2"/>
<polygon points="420.15,429.00 423.35,430.90 420.15,432.80" fill="#1a1a1a"/>
<text x="427.05" y="434.00" font-size="10.7" fill="#1a1a1a">199</text>
<text transform="translate(299.20,482.60) rotate(-90)" font-size="11" font-weight="bold" fill="#1a1a1a" text-anchor="middle">Intensity</text>
<text transform="translate(312.50,482.60) rotate(-90)" font-size="11" font-weight="bold" fill="#1a1a1a" text-anchor="middle">x10<tspan font-size="8.5" dy="-4">6</tspan></text>
<line x1="337.40" y1="553.10" x2="337.40" y2="622.50" stroke="#1a1a1a" stroke-width="1.9" />
<line x1="336.50" y1="621.50" x2="474.70" y2="621.50" stroke="#1a1a1a" stroke-width="1.9" />
<line x1="337.40" y1="606.75" x2="345.60" y2="606.75" stroke="#1a1a1a" stroke-width="1.7" />
<line x1="337.40" y1="592.00" x2="345.60" y2="592.00" stroke="#1a1a1a" stroke-width="1.7" />
<line x1="337.40" y1="577.25" x2="345.60" y2="577.25" stroke="#1a1a1a" stroke-width="1.7" />
<line x1="337.40" y1="562.50" x2="345.60" y2="562.50" stroke="#1a1a1a" stroke-width="1.7" />
<text x="334.10" y="566.30" font-size="10.9" font-weight="normal" fill="#1a1a1a" text-anchor="end" >8</text>
<text x="334.10" y="581.05" font-size="10.9" font-weight="normal" fill="#1a1a1a" text-anchor="end" >6</text>
<text x="334.10" y="595.80" font-size="10.9" font-weight="normal" fill="#1a1a1a" text-anchor="end" >4</text>
<text x="334.10" y="610.55" font-size="10.9" font-weight="normal" fill="#1a1a1a" text-anchor="end" >2</text>
<text x="334.10" y="625.30" font-size="10.9" font-weight="normal" fill="#1a1a1a" text-anchor="end" >0</text>
<line x1="352.50" y1="621.50" x2="352.50" y2="626.30" stroke="#1a1a1a" stroke-width="1.6" />
<text x="350.90" y="635.30" font-size="10.9" font-weight="normal" fill="#1a1a1a" text-anchor="middle" >7.6</text>
<line x1="380.70" y1="621.50" x2="380.70" y2="626.30" stroke="#1a1a1a" stroke-width="1.6" />
<text x="379.10" y="635.30" font-size="10.9" font-weight="normal" fill="#1a1a1a" text-anchor="middle" >7.8</text>
<line x1="408.90" y1="621.50" x2="408.90" y2="626.30" stroke="#1a1a1a" stroke-width="1.6" />
<text x="407.30" y="635.30" font-size="10.9" font-weight="normal" fill="#1a1a1a" text-anchor="middle" >8.0</text>
<line x1="437.10" y1="621.50" x2="437.10" y2="626.30" stroke="#1a1a1a" stroke-width="1.6" />
<text x="435.50" y="635.30" font-size="10.9" font-weight="normal" fill="#1a1a1a" text-anchor="middle" >8.2</text>
<line x1="465.30" y1="621.50" x2="465.30" y2="626.30" stroke="#1a1a1a" stroke-width="1.6" />
<text x="463.70" y="635.30" font-size="10.9" font-weight="normal" fill="#1a1a1a" text-anchor="middle" >8.4</text>
<path d="M337.80,616.86 C338.80,617.29 339.80,617.59 340.80,618.15 C341.80,618.70 342.80,620.03 343.80,620.51 C344.63,620.92 345.47,621.40 346.30,621.40 C352.47,621.40 358.63,621.30 364.80,621.20 C368.80,621.14 372.80,621.01 376.80,620.91 C380.47,620.81 384.13,620.81 387.80,620.61 C389.13,620.54 390.47,619.97 391.80,619.82 C392.63,619.73 393.47,619.63 394.30,619.63 C395.13,619.63 395.97,620.61 396.80,620.71 C399.47,621.04 402.13,621.15 404.80,621.20 C407.47,621.26 410.13,621.30 412.80,621.30 C413.80,621.30 414.80,621.13 415.80,620.81 C416.37,620.63 416.93,619.53 417.50,618.34 C418.03,617.23 418.57,614.64 419.10,612.42 C419.57,610.48 420.03,609.10 420.50,605.81 C421.07,601.83 421.63,588.92 422.20,580.75 C422.73,573.06 423.27,563.39 423.80,558.16 C423.90,557.18 424.00,555.93 424.10,555.69 C424.53,554.66 424.97,554.69 425.40,554.21 C425.83,553.74 426.27,552.83 426.70,552.83 C427.00,552.83 427.30,555.64 427.60,558.16 C428.07,562.07 428.53,575.31 429.00,580.75 C429.97,592.03 430.93,599.81 431.90,605.81 C432.37,608.71 432.83,611.01 433.30,612.92 C433.83,615.09 434.37,617.48 434.90,618.34 C435.60,619.48 436.30,620.34 437.00,620.51 C438.27,620.83 439.53,620.97 440.80,621.01 C445.47,621.15 450.13,621.15 454.80,621.20 C460.80,621.28 466.80,621.34 472.80,621.40" fill="none" stroke="#1437ff" stroke-width="1.75" stroke-linejoin="round"/>
<text x="358.8" y="583.2" font-size="11" font-weight="bold" fill="#2b4b9f">LTB<tspan font-size="7.5" dy="2.2">4</tspan><tspan dy="-2.2">-d4</tspan></text>
<text x="409.20" y="648.00" font-size="11" font-weight="bold" fill="#1a1a1a" text-anchor="middle" >Time (min)</text>
<text transform="translate(299.20,587.40) rotate(-90)" font-size="11" font-weight="bold" fill="#1a1a1a" text-anchor="middle">Intensity</text>
<text transform="translate(312.50,587.40) rotate(-90)" font-size="11" font-weight="bold" fill="#1a1a1a" text-anchor="middle">x10<tspan font-size="8.5" dy="-4">6</tspan></text>
<line x1="537.20" y1="299.50" x2="537.20" y2="399.90" stroke="#1a1a1a" stroke-width="1.9" />
<line x1="536.30" y1="398.90" x2="675.60" y2="398.90" stroke="#1a1a1a" stroke-width="1.9" />
<line x1="537.20" y1="374.25" x2="545.40" y2="374.25" stroke="#1a1a1a" stroke-width="1.7" />
<line x1="537.20" y1="349.60" x2="545.40" y2="349.60" stroke="#1a1a1a" stroke-width="1.7" />
<line x1="537.20" y1="324.95" x2="545.40" y2="324.95" stroke="#1a1a1a" stroke-width="1.7" />
<line x1="537.20" y1="300.30" x2="545.40" y2="300.30" stroke="#1a1a1a" stroke-width="1.7" />
<text x="531.20" y="302.10" font-size="10.9" font-weight="normal" fill="#1a1a1a" text-anchor="end" >2.0</text>
<text x="531.20" y="326.75" font-size="10.9" font-weight="normal" fill="#1a1a1a" text-anchor="end" >1.5</text>
<text x="531.20" y="351.40" font-size="10.9" font-weight="normal" fill="#1a1a1a" text-anchor="end" >1.0</text>
<text x="531.20" y="376.05" font-size="10.9" font-weight="normal" fill="#1a1a1a" text-anchor="end" >0.5</text>
<text x="531.20" y="400.70" font-size="10.9" font-weight="normal" fill="#1a1a1a" text-anchor="end" >0</text>
<line x1="552.23" y1="398.90" x2="552.23" y2="403.70" stroke="#1a1a1a" stroke-width="1.6" />
<text x="550.63" y="413.30" font-size="10.9" font-weight="normal" fill="#1a1a1a" text-anchor="middle" >7.6</text>
<line x1="580.29" y1="398.90" x2="580.29" y2="403.70" stroke="#1a1a1a" stroke-width="1.6" />
<text x="578.69" y="413.30" font-size="10.9" font-weight="normal" fill="#1a1a1a" text-anchor="middle" >7.8</text>
<line x1="608.35" y1="398.90" x2="608.35" y2="403.70" stroke="#1a1a1a" stroke-width="1.6" />
<text x="606.75" y="413.30" font-size="10.9" font-weight="normal" fill="#1a1a1a" text-anchor="middle" >8.0</text>
<line x1="636.41" y1="398.90" x2="636.41" y2="403.70" stroke="#1a1a1a" stroke-width="1.6" />
<text x="634.81" y="413.30" font-size="10.9" font-weight="normal" fill="#1a1a1a" text-anchor="middle" >8.2</text>
<line x1="664.47" y1="398.90" x2="664.47" y2="403.70" stroke="#1a1a1a" stroke-width="1.6" />
<text x="662.87" y="413.30" font-size="10.9" font-weight="normal" fill="#1a1a1a" text-anchor="middle" >8.4</text>
<path d="M538.10,398.07 C540.50,398.18 542.89,398.38 545.29,398.38 C548.38,398.38 551.46,396.73 554.54,396.73 C557.45,396.73 560.37,398.28 563.28,398.28 C565.85,398.28 568.42,398.12 570.99,397.97 C572.74,397.87 574.48,397.85 576.23,397.46 C576.74,397.34 577.26,394.00 577.77,393.74 C579.18,393.03 580.58,392.71 581.99,392.71 C582.71,392.71 583.42,394.53 584.14,394.88 C584.66,395.13 585.17,395.39 585.69,395.39 C587.09,395.39 588.50,395.19 589.90,394.88 C590.96,394.64 592.02,392.86 593.09,392.20 C594.11,391.55 595.14,390.65 596.17,390.65 C596.96,390.65 597.75,393.74 598.53,393.74 C599.49,393.74 600.45,393.08 601.41,392.71 C602.65,392.24 603.88,392.13 605.11,391.16 C605.83,390.60 606.55,388.18 607.27,384.77 C607.78,382.33 608.30,374.48 608.81,368.99 C609.22,364.60 609.63,359.14 610.05,355.27 C610.49,351.09 610.94,344.44 611.38,344.44 C611.93,344.44 612.48,345.83 613.03,347.12 C613.37,347.93 613.71,349.22 614.05,351.04 C614.57,353.77 615.08,360.80 615.60,365.90 C616.14,371.33 616.69,380.59 617.24,382.71 C618.10,386.02 618.95,387.29 619.81,388.48 C620.70,389.72 621.59,390.40 622.48,391.16 C623.17,391.75 623.85,392.03 624.54,392.71 C625.05,393.22 625.57,394.88 626.08,394.88 C627.31,394.88 628.55,394.57 629.78,394.57 C631.19,394.57 632.59,395.02 633.99,395.39 C634.89,395.63 635.78,395.98 636.67,396.42 C637.18,396.68 637.69,397.39 638.21,397.46 C641.50,397.86 644.79,397.97 648.08,397.97 C651.50,397.97 654.93,397.80 658.35,397.56 C660.75,397.39 663.15,395.91 665.55,395.91 C667.26,395.91 668.98,396.94 670.69,396.94 C672.98,396.94 675.28,395.22 677.57,394.36" fill="none" stroke="#ff0000" stroke-width="1.75" stroke-linejoin="round"/>
<path d="M537.99,384.58 C538.92,382.55 539.84,378.50 540.76,378.50 C541.48,378.50 542.20,379.72 542.92,380.77 C544.05,382.41 545.17,387.91 546.30,389.73 C547.43,391.55 548.56,393.65 549.69,393.65 C550.81,393.65 551.94,390.66 553.07,387.46 C554.20,384.27 555.33,368.04 556.46,366.03 C556.97,365.12 557.48,364.28 557.99,364.28 C558.61,364.28 559.22,366.52 559.84,368.30 C560.93,371.47 562.03,380.28 563.12,384.17 C564.63,389.51 566.13,395.95 567.63,396.53 C569.51,397.26 571.39,397.66 573.28,397.66 C574.78,397.66 576.28,397.14 577.79,396.53 C579.87,395.69 581.96,388.60 584.04,388.60 C585.31,388.60 586.57,390.75 587.84,392.00 C589.34,393.48 590.85,396.94 592.35,396.94 C593.48,396.94 594.61,394.56 595.74,393.13 C597.38,391.06 599.02,385.92 600.66,385.92 C602.40,385.92 604.15,390.86 605.89,390.86 C606.85,390.86 607.80,386.83 608.76,381.90 C610.03,375.39 611.29,325.84 612.55,314.21 C613.31,307.29 614.06,299.48 614.81,299.48 C615.56,299.48 616.32,304.76 617.07,309.68 C618.20,317.05 619.32,343.82 620.45,354.80 C621.58,365.79 622.71,376.97 623.84,380.77 C625.68,386.98 627.53,389.54 629.37,392.00 C630.88,394.00 632.38,396.53 633.89,396.53 C635.39,396.53 636.90,393.96 638.40,393.65 C639.73,393.36 641.07,393.13 642.40,393.13 C643.46,393.13 644.52,394.98 645.58,394.98 C646.57,394.98 647.56,394.03 648.55,393.23 C650.26,391.86 651.97,385.92 653.68,385.92 C654.36,385.92 655.05,386.50 655.73,387.05 C657.07,388.12 658.40,393.52 659.73,394.26 C660.86,394.89 661.99,395.40 663.12,395.40 C665.00,395.40 666.88,392.72 668.76,392.72 C669.89,392.72 671.01,394.21 672.14,394.98 C673.61,395.99 675.08,397.05 676.55,398.08" fill="none" stroke="#00cc00" stroke-width="1.75" stroke-linejoin="round"/>
<text x="617.20" y="294.50" font-size="11" font-weight="bold" fill="#1a1a1a" text-anchor="middle" >Merge</text>
<text transform="translate(500.00,343.20) rotate(-90)" font-size="11" font-weight="bold" fill="#1a1a1a" text-anchor="middle">Intensity</text>
<text transform="translate(513.30,343.20) rotate(-90)" font-size="11" font-weight="bold" fill="#1a1a1a" text-anchor="middle">x10<tspan font-size="8.5" dy="-4">6</tspan></text>
<line x1="540.30" y1="433.30" x2="540.30" y2="531.80" stroke="#1a1a1a" stroke-width="1.9" />
<line x1="539.40" y1="530.80" x2="676.00" y2="530.80" stroke="#1a1a1a" stroke-width="1.9" />
<line x1="540.30" y1="516.04" x2="548.50" y2="516.04" stroke="#1a1a1a" stroke-width="1.7" />
<line x1="540.30" y1="501.28" x2="548.50" y2="501.28" stroke="#1a1a1a" stroke-width="1.7" />
<line x1="540.30" y1="486.52" x2="548.50" y2="486.52" stroke="#1a1a1a" stroke-width="1.7" />
<line x1="540.30" y1="471.76" x2="548.50" y2="471.76" stroke="#1a1a1a" stroke-width="1.7" />
<line x1="540.30" y1="457.00" x2="548.50" y2="457.00" stroke="#1a1a1a" stroke-width="1.7" />
<line x1="540.30" y1="442.24" x2="548.50" y2="442.24" stroke="#1a1a1a" stroke-width="1.7" />
<text x="536.70" y="445.44" font-size="10.9" font-weight="normal" fill="#1a1a1a" text-anchor="end" >1.2</text>
<text x="536.70" y="474.96" font-size="10.9" font-weight="normal" fill="#1a1a1a" text-anchor="end" >0.8</text>
<text x="536.70" y="504.48" font-size="10.9" font-weight="normal" fill="#1a1a1a" text-anchor="end" >0.4</text>
<text x="536.70" y="534.00" font-size="10.9" font-weight="normal" fill="#1a1a1a" text-anchor="end" >0.0</text>
<line x1="554.45" y1="530.80" x2="554.45" y2="535.60" stroke="#1a1a1a" stroke-width="1.6" />
<text x="552.85" y="546.20" font-size="10.9" font-weight="normal" fill="#1a1a1a" text-anchor="middle" >7.6</text>
<line x1="581.75" y1="530.80" x2="581.75" y2="535.60" stroke="#1a1a1a" stroke-width="1.6" />
<text x="580.15" y="546.20" font-size="10.9" font-weight="normal" fill="#1a1a1a" text-anchor="middle" >7.8</text>
<line x1="609.05" y1="530.80" x2="609.05" y2="535.60" stroke="#1a1a1a" stroke-width="1.6" />
<text x="607.45" y="546.20" font-size="10.9" font-weight="normal" fill="#1a1a1a" text-anchor="middle" >8.0</text>
<line x1="636.35" y1="530.80" x2="636.35" y2="535.60" stroke="#1a1a1a" stroke-width="1.6" />
<text x="634.75" y="546.20" font-size="10.9" font-weight="normal" fill="#1a1a1a" text-anchor="middle" >8.2</text>
<line x1="663.65" y1="530.80" x2="663.65" y2="535.60" stroke="#1a1a1a" stroke-width="1.6" />
<text x="662.05" y="546.20" font-size="10.9" font-weight="normal" fill="#1a1a1a" text-anchor="middle" >8.4</text>
<path d="M540.80,530.08 C546.47,529.95 552.13,529.80 557.80,529.71 C562.80,529.64 567.80,529.66 572.80,529.53 C574.33,529.49 575.87,529.33 577.40,528.90 C578.27,528.66 579.13,525.16 580.00,524.19 C581.10,522.95 582.20,521.56 583.30,521.56 C584.83,521.56 586.37,521.56 587.90,521.56 C588.77,521.56 589.63,523.56 590.50,524.73 C591.17,525.63 591.83,527.72 592.50,527.72 C593.60,527.72 594.70,527.09 595.80,527.09 C596.67,527.09 597.53,528.36 598.40,528.36 C599.50,528.36 600.60,527.72 601.70,527.72 C602.80,527.72 603.90,527.99 605.00,527.99 C605.87,527.99 606.73,524.71 607.60,521.74 C608.47,518.78 609.33,512.86 610.20,506.26 C610.87,501.18 611.53,485.80 612.20,485.80 C612.87,485.80 613.53,485.80 614.20,485.80 C615.07,485.80 615.93,494.87 616.80,500.37 C617.67,505.88 618.53,516.68 619.40,519.39 C620.30,522.20 621.20,523.22 622.10,524.73 C622.83,525.97 623.57,527.99 624.30,527.99 C625.10,527.99 625.90,527.99 626.70,527.99 C627.33,527.99 627.97,529.53 628.60,529.53 C631.03,529.53 633.47,528.90 635.90,528.90 C636.77,528.90 637.63,529.89 638.50,529.89 C640.03,529.89 641.57,529.89 643.10,529.89 C644.20,529.89 645.30,526.46 646.40,525.37 C647.70,524.08 649.00,522.38 650.30,522.38 C651.63,522.38 652.97,525.23 654.30,526.54 C655.37,527.59 656.43,529.39 657.50,529.53 C659.27,529.77 661.03,529.85 662.80,529.89 C667.47,530.01 672.13,530.02 676.80,530.08" fill="none" stroke="#ff0000" stroke-width="1.75" stroke-linejoin="round"/>
<path d="M540.30,523.09 C541.30,520.86 542.30,516.93 543.29,516.39 C544.26,515.87 545.22,515.49 546.19,515.49 C547.25,515.49 548.32,518.07 549.38,519.79 C550.71,521.94 552.04,528.00 553.37,528.00 C555.04,528.00 556.70,528.00 558.36,528.00 C560.62,528.00 562.88,523.70 565.15,523.70 C566.54,523.70 567.94,525.37 569.34,526.30 C570.83,527.29 572.33,529.50 573.83,529.50 C574.99,529.50 576.16,529.20 577.32,528.80 C579.08,528.19 580.85,520.26 582.61,517.79 C583.77,516.16 584.94,513.99 586.10,513.99 C587.16,513.99 588.23,515.26 589.29,516.29 C591.42,518.35 593.55,527.20 595.68,527.20 C597.61,527.20 599.54,518.39 601.47,518.39 C602.73,518.39 603.99,522.19 605.26,522.19 C606.42,522.19 607.59,522.19 608.75,522.19 C609.75,522.19 610.75,508.89 611.74,497.38 C612.58,487.78 613.41,463.27 614.24,451.75 C614.74,444.83 615.24,434.53 615.74,434.53 C616.40,434.53 617.07,436.26 617.73,438.24 C619.13,442.39 620.52,479.75 621.92,491.57 C623.39,503.96 624.85,515.63 626.31,519.29 C628.24,524.12 630.17,528.00 632.10,528.00 C633.96,528.00 635.82,528.00 637.69,528.00 C639.22,528.00 640.75,524.50 642.28,524.50 C643.54,524.50 644.80,525.10 646.07,525.10 C647.23,525.10 648.40,497.78 649.56,488.57 C650.96,477.53 652.35,462.25 653.75,462.25 C654.72,462.25 655.68,468.43 656.65,473.96 C658.18,482.73 659.71,522.65 661.24,525.10 C662.70,527.43 664.16,528.49 665.63,528.90 C669.02,529.84 672.41,529.90 675.80,530.40" fill="none" stroke="#00cc00" stroke-width="1.75" stroke-linejoin="round"/>
<text x="617.60" y="431.50" font-size="11" font-weight="bold" fill="#1a1a1a" text-anchor="middle" >Merge</text>
<text transform="translate(500.20,478.40) rotate(-90)" font-size="11" font-weight="bold" fill="#1a1a1a" text-anchor="middle">Intensity</text>
<text transform="translate(513.50,478.40) rotate(-90)" font-size="11" font-weight="bold" fill="#1a1a1a" text-anchor="middle">x10<tspan font-size="8.5" dy="-4">6</tspan></text>
<line x1="539.90" y1="550.50" x2="539.90" y2="621.80" stroke="#1a1a1a" stroke-width="1.9" />
<line x1="539.00" y1="620.80" x2="677.30" y2="620.80" stroke="#1a1a1a" stroke-width="1.9" />
<line x1="539.90" y1="605.98" x2="547.50" y2="605.98" stroke="#1a1a1a" stroke-width="1.7" />
<line x1="539.90" y1="591.16" x2="547.50" y2="591.16" stroke="#1a1a1a" stroke-width="1.7" />
<line x1="539.90" y1="576.34" x2="547.50" y2="576.34" stroke="#1a1a1a" stroke-width="1.7" />
<line x1="539.90" y1="561.52" x2="547.50" y2="561.52" stroke="#1a1a1a" stroke-width="1.7" />
<text x="536.60" y="565.32" font-size="10.9" font-weight="normal" fill="#1a1a1a" text-anchor="end" >8</text>
<text x="536.60" y="580.14" font-size="10.9" font-weight="normal" fill="#1a1a1a" text-anchor="end" >6</text>
<text x="536.60" y="594.96" font-size="10.9" font-weight="normal" fill="#1a1a1a" text-anchor="end" >4</text>
<text x="536.60" y="609.78" font-size="10.9" font-weight="normal" fill="#1a1a1a" text-anchor="end" >2</text>
<text x="536.60" y="624.60" font-size="10.9" font-weight="normal" fill="#1a1a1a" text-anchor="end" >0</text>
<line x1="554.70" y1="620.80" x2="554.70" y2="625.60" stroke="#1a1a1a" stroke-width="1.6" />
<text x="553.10" y="634.40" font-size="10.9" font-weight="normal" fill="#1a1a1a" text-anchor="middle" >7.6</text>
<line x1="582.90" y1="620.80" x2="582.90" y2="625.60" stroke="#1a1a1a" stroke-width="1.6" />
<text x="581.30" y="634.40" font-size="10.9" font-weight="normal" fill="#1a1a1a" text-anchor="middle" >7.8</text>
<line x1="611.10" y1="620.80" x2="611.10" y2="625.60" stroke="#1a1a1a" stroke-width="1.6" />
<text x="609.50" y="634.40" font-size="10.9" font-weight="normal" fill="#1a1a1a" text-anchor="middle" >8.0</text>
<line x1="639.30" y1="620.80" x2="639.30" y2="625.60" stroke="#1a1a1a" stroke-width="1.6" />
<text x="637.70" y="634.40" font-size="10.9" font-weight="normal" fill="#1a1a1a" text-anchor="middle" >8.2</text>
<line x1="667.50" y1="620.80" x2="667.50" y2="625.60" stroke="#1a1a1a" stroke-width="1.6" />
<text x="665.90" y="634.40" font-size="10.9" font-weight="normal" fill="#1a1a1a" text-anchor="middle" >8.4</text>
<path d="M540.00,616.14 C541.00,616.57 542.00,616.87 543.00,617.43 C544.00,617.99 545.00,619.32 546.00,619.81 C546.83,620.21 547.67,620.70 548.50,620.70 C554.67,620.70 560.83,620.60 567.00,620.50 C571.00,620.44 575.00,620.31 579.00,620.21 C582.67,620.11 586.33,620.11 590.00,619.91 C591.33,619.84 592.67,619.26 594.00,619.11 C594.83,619.02 595.67,618.92 596.50,618.92 C597.33,618.92 598.17,619.90 599.00,620.01 C601.67,620.34 604.33,620.45 607.00,620.50 C609.67,620.56 612.33,620.60 615.00,620.60 C616.00,620.60 617.00,620.43 618.00,620.11 C618.57,619.92 619.13,618.82 619.70,617.63 C620.23,616.51 620.77,613.91 621.30,611.68 C621.77,609.73 622.23,608.34 622.70,605.04 C623.27,601.03 623.83,588.07 624.40,579.86 C624.93,572.13 625.47,562.41 626.00,557.16 C626.10,556.17 626.20,554.92 626.30,554.68 C626.73,553.65 627.17,553.67 627.60,553.19 C628.03,552.71 628.47,551.81 628.90,551.81 C629.20,551.81 629.50,554.63 629.80,557.16 C630.27,561.09 630.73,574.39 631.20,579.86 C632.17,591.19 633.13,599.01 634.10,605.04 C634.57,607.95 635.03,610.26 635.50,612.18 C636.03,614.36 636.57,616.76 637.10,617.63 C637.80,618.77 638.50,619.63 639.20,619.81 C640.47,620.13 641.73,620.27 643.00,620.30 C647.67,620.45 652.33,620.44 657.00,620.50 C663.00,620.58 669.00,620.63 675.00,620.70" fill="none" stroke="#1437ff" stroke-width="2" stroke-linejoin="round"/>
<text x="564.4" y="578.9" font-size="11" font-weight="bold" fill="#2b4b9f">LTB<tspan font-size="7.5" dy="2.2">4</tspan><tspan dy="-2.2">-d4</tspan></text>
<text x="607.40" y="653.70" font-size="11" font-weight="bold" fill="#1a1a1a" text-anchor="middle" >Time (min)</text>
<text transform="translate(499.60,583.80) rotate(-90)" font-size="11" font-weight="bold" fill="#1a1a1a" text-anchor="middle">Intensity</text>
<text transform="translate(512.90,583.80) rotate(-90)" font-size="11" font-weight="bold" fill="#1a1a1a" text-anchor="middle">x10<tspan font-size="8.5" dy="-4">6</tspan></text>
<text x="-0.90" y="704.70" font-size="20" font-weight="bold" fill="#1a1a1a" text-anchor="start" >C</text>
<text x="125.80" y="721.80" font-size="11.2" font-weight="bold" fill="#1a1a1a" text-anchor="start" >Full fragmentation of m/z 364</text>
<text transform="translate(12.4,821.7) rotate(-90)" font-size="11.25" font-weight="bold" fill="#1a1a1a" text-anchor="middle">Intensity (arbitrary)</text>
<polygon points="49.6,901.0 49.6,899.5 50.6,899.5 50.6,899.5 51.6,899.5 51.6,899.5 52.6,899.5 52.6,899.5 53.6,899.5 53.6,899.5 54.6,899.5 54.6,899.5 55.6,899.5 55.6,899.5 56.6,899.5 56.6,899.5 57.6,899.5 57.6,899.5 58.6,899.5 58.6,899.5 59.6,899.5 59.6,899.5 60.6,899.5 60.6,899.5 61.6,899.5 61.6,896.3 62.6,896.3 62.6,898.8 63.6,898.8 63.6,897.8 64.6,897.8 64.6,899.5 65.6,899.5 65.6,899.5 66.6,899.5 66.6,899.5 67.6,899.5 67.6,897.8 68.6,897.8 68.6,897.8 69.6,897.8 69.6,899.5 70.6,899.5 70.6,897.8 71.6,897.8 71.6,898.8 72.6,898.8 72.6,899.5 73.6,899.5 73.6,898.8 74.6,898.8 74.6,897.8 75.6,897.8 75.6,899.5 76.6,899.5 76.6,897.8 77.6,897.8 77.6,899.5 78.6,899.5 78.6,897.8 79.6,897.8 79.6,898.8 80.6,898.8 80.6,899.5 81.6,899.5 81.6,897.8 82.6,897.8 82.6,899.5 83.6,899.5 83.6,897.8 84.6,897.8 84.6,898.8 85.6,898.8 85.6,897.8 86.6,897.8 86.6,899.5 87.6,899.5 87.6,899.5 88.6,899.5 88.6,899.5 89.6,899.5 89.6,885.2 90.6,885.2 90.6,886.2 91.6,886.2 91.6,897.8 92.6,897.8 92.6,881.6 93.6,881.6 93.6,891.7 94.6,891.7 94.6,892.4 95.6,892.4 95.6,881.2 96.6,881.2 96.6,888.9 97.6,888.9 97.6,892.5 98.6,892.5 98.6,879.5 99.6,879.5 99.6,897.0 100.6,897.0 100.6,898.9 101.6,898.9 101.6,897.3 102.6,897.3 102.6,890.4 103.6,890.4 103.6,893.3 104.6,893.3 104.6,894.1 105.6,894.1 105.6,893.2 106.6,893.2 106.6,897.8 107.6,897.8 107.6,895.3 108.6,895.3 108.6,892.6 109.6,892.6 109.6,898.8 110.6,898.8 110.6,893.2 111.6,893.2 111.6,892.0 112.6,892.0 112.6,894.2 113.6,894.2 113.6,897.1 114.6,897.1 114.6,894.7 115.6,894.7 115.6,896.8 116.6,896.8 116.6,897.8 117.6,897.8 117.6,894.8 118.6,894.8 118.6,898.7 119.6,898.7 119.6,897.6 120.6,897.6 120.6,896.8 121.6,896.8 121.6,890.0 122.6,890.0 122.6,898.2 123.6,898.2 123.6,896.7 124.6,896.7 124.6,897.3 125.6,897.3 125.6,890.0 126.6,890.0 126.6,897.9 127.6,897.9 127.6,891.2 128.6,891.2 128.6,895.9 129.6,895.9 129.6,899.2 130.6,899.2 130.6,897.7 131.6,897.7 131.6,892.9 132.6,892.9 132.6,898.9 133.6,898.9 133.6,896.8 134.6,896.8 134.6,890.7 135.6,890.7 135.6,899.3 136.6,899.3 136.6,896.7 137.6,896.7 137.6,897.0 138.6,897.0 138.6,896.5 139.6,896.5 139.6,895.5 140.6,895.5 140.6,897.3 141.6,897.3 141.6,898.0 142.6,898.0 142.6,892.5 143.6,892.5 143.6,896.5 144.6,896.5 144.6,897.9 145.6,897.9 145.6,896.6 146.6,896.6 146.6,892.1 147.6,892.1 147.6,894.7 148.6,894.7 148.6,892.6 149.6,892.6 149.6,886.9 150.6,886.9 150.6,895.2 151.6,895.2 151.6,893.0 152.6,893.0 152.6,890.8 153.6,890.8 153.6,886.9 154.6,886.9 154.6,891.0 155.6,891.0 155.6,887.4 156.6,887.4 156.6,885.4 157.6,885.4 157.6,898.4 158.6,898.4 158.6,895.4 159.6,895.4 159.6,888.8 160.6,888.8 160.6,895.2 161.6,895.2 161.6,888.5 162.6,888.5 162.6,890.1 163.6,890.1 163.6,890.3 164.6,890.3 164.6,886.9 165.6,886.9 165.6,887.9 166.6,887.9 166.6,883.8 167.6,883.8 167.6,897.5 168.6,897.5 168.6,894.8 169.6,894.8 169.6,896.2 170.6,896.2 170.6,898.3 171.6,898.3 171.6,898.7 172.6,898.7 172.6,894.3 173.6,894.3 173.6,888.6 174.6,888.6 174.6,887.5 175.6,887.5 175.6,890.8 176.6,890.8 176.6,897.6 177.6,897.6 177.6,896.9 178.6,896.9 178.6,897.3 179.6,897.3 179.6,897.9 180.6,897.9 180.6,896.0 181.6,896.0 181.6,896.5 182.6,896.5 182.6,896.4 183.6,896.4 183.6,897.2 184.6,897.2 184.6,895.4 185.6,895.4 185.6,897.5 186.6,897.5 186.6,897.5 187.6,897.5 187.6,898.7 188.6,898.7 188.6,899.0 189.6,899.0 189.6,892.6 190.6,892.6 190.6,887.5 191.6,887.5 191.6,896.3 192.6,896.3 192.6,896.2 193.6,896.2 193.6,894.7 194.6,894.7 194.6,894.4 195.6,894.4 195.6,897.8 196.6,897.8 196.6,891.7 197.6,891.7 197.6,885.9 198.6,885.9 198.6,892.7 199.6,892.7 199.6,897.5 200.6,897.5 200.6,895.6 201.6,895.6 201.6,897.8 202.6,897.8 202.6,898.1 203.6,898.1 203.6,890.8 204.6,890.8 204.6,897.6 205.6,897.6 205.6,889.4 206.6,889.4 206.6,885.4 207.6,885.4 207.6,885.8 208.6,885.8 208.6,899.1 209.6,899.1 209.6,882.1 210.6,882.1 210.6,887.8 211.6,887.8 211.6,897.3 212.6,897.3 212.6,882.1 213.6,882.1 213.6,877.8 214.6,877.8 214.6,898.7 215.6,898.7 215.6,870.3 216.6,870.3 216.6,891.5 217.6,891.5 217.6,898.6 218.6,898.6 218.6,877.3 219.6,877.3 219.6,897.8 220.6,897.8 220.6,899.2 221.6,899.2 221.6,879.7 222.6,879.7 222.6,883.5 223.6,883.5 223.6,887.2 224.6,887.2 224.6,877.1 225.6,877.1 225.6,891.2 226.6,891.2 226.6,896.9 227.6,896.9 227.6,873.8 228.6,873.8 228.6,898.1 229.6,898.1 229.6,896.9 230.6,896.9 230.6,876.6 231.6,876.6 231.6,884.5 232.6,884.5 232.6,874.8 233.6,874.8 233.6,882.0 234.6,882.0 234.6,891.0 235.6,891.0 235.6,890.8 236.6,890.8 236.6,897.7 237.6,897.7 237.6,879.1 238.6,879.1 238.6,877.4 239.6,877.4 239.6,898.8 240.6,898.8 240.6,891.9 241.6,891.9 241.6,878.9 242.6,878.9 242.6,887.4 243.6,887.4 243.6,898.4 244.6,898.4 244.6,884.9 245.6,884.9 245.6,897.2 246.6,897.2 246.6,878.0 247.6,878.0 247.6,876.7 248.6,876.7 248.6,880.8 249.6,880.8 249.6,890.4 250.6,890.4 250.6,878.0 251.6,878.0 251.6,889.5 252.6,889.5 252.6,887.6 253.6,887.6 253.6,885.3 254.6,885.3 254.6,890.0 255.6,890.0 255.6,877.1 256.6,877.1 256.6,878.4 257.6,878.4 257.6,891.0 258.6,891.0 258.6,875.9 259.6,875.9 259.6,892.3 260.6,892.3 260.6,879.2 261.6,879.2 261.6,870.0 262.6,870.0 262.6,873.2 263.6,873.2 263.6,897.8 264.6,897.8 264.6,891.7 265.6,891.7 265.6,897.1 266.6,897.1 266.6,890.9 267.6,890.9 267.6,888.8 268.6,888.8 268.6,876.7 269.6,876.7 269.6,898.8 270.6,898.8 270.6,880.9 271.6,880.9 271.6,885.3 272.6,885.3 272.6,873.8 273.6,873.8 273.6,884.6 274.6,884.6 274.6,882.0 275.6,882.0 275.6,879.3 276.6,879.3 276.6,879.9 277.6,879.9 277.6,879.5 278.6,879.5 278.6,881.1 279.6,881.1 279.6,876.5 280.6,876.5 280.6,882.0 281.6,882.0 281.6,876.4 282.6,876.4 282.6,886.4 283.6,886.4 283.6,897.1 284.6,897.1 284.6,887.6 285.6,887.6 285.6,898.8 286.6,898.8 286.6,890.0 287.6,890.0 287.6,893.7 288.6,893.7 288.6,893.3 289.6,893.3 289.6,880.9 290.6,880.9 290.6,899.3 291.6,899.3 291.6,888.9 292.6,888.9 292.6,895.8 293.6,895.8 293.6,898.9 294.6,898.9 294.6,898.7 295.6,898.7 295.6,891.3 296.6,891.3 296.6,898.9 297.6,898.9 297.6,897.9 298.6,897.9 298.6,896.7 299.6,896.7 299.6,894.3 300.6,894.3 300.6,890.3 301.6,890.3 301.6,894.3 302.6,894.3 302.6,890.3 303.6,890.3 303.6,890.3 304.6,890.3 304.6,894.3 305.6,894.3 305.6,886.3 306.6,886.3 306.6,899.3 307.6,899.3 307.6,890.3 308.6,890.3 308.6,897.3 309.6,897.3 309.6,890.3 310.6,890.3 310.6,899.3 311.6,899.3 311.6,897.3 312.6,897.3 312.6,899.5 313.6,899.5 313.6,899.5 314.6,899.5 314.6,899.5 315.6,899.5 315.6,899.5 316.6,899.5 316.6,899.5 317.6,899.5 317.6,899.5 318.6,899.5 318.6,895.3 319.6,895.3 319.6,886.3 320.6,886.3 320.6,891.3 321.6,891.3 321.6,898.3 322.6,898.3 322.6,895.3 323.6,895.3 323.6,898.3 324.6,898.3 324.6,886.3 325.6,886.3 325.6,891.3 326.6,891.3 326.6,896.3 327.6,896.3 327.6,899.3 328.6,899.3 328.6,890.3 329.6,890.3 329.6,896.3 330.6,896.3 330.6,893.3 331.6,893.3 331.6,899.3 332.6,899.3 332.6,896.3 333.6,896.3 333.6,899.3 334.6,899.3 334.6,898.3 335.6,898.3 335.6,899.3 336.6,899.3 336.6,898.3 337.6,898.3 337.6,893.3 338.6,893.3 338.6,899.3 339.6,899.3 339.6,890.3 340.6,890.3 340.6,890.3 341.6,890.3 341.6,893.3 342.6,893.3 342.6,898.3 343.6,898.3 343.6,893.3 344.6,893.3 344.6,893.3 345.6,893.3 345.6,899.5 346.6,899.5 346.6,896.3 347.6,896.3 347.6,888.3 348.6,888.3 348.6,896.3 349.6,896.3 349.6,896.3 350.6,896.3 350.6,896.3 351.6,896.3 351.6,896.3 352.6,896.3 352.6,899.5 353.6,899.5 353.6,899.5 354.6,899.5 354.6,899.5 355.6,899.5 355.6,899.5 356.6,899.5 356.6,899.5 357.6,899.5 357.6,899.5 358.6,899.5 358.6,899.5 359.6,899.5 359.6,899.5 360.6,899.5 360.6,899.5 361.6,899.5 361.6,899.5 362.6,899.5 362.6,899.5 363.6,899.5 363.6,899.5 364.6,899.5 364.6,899.5 365.6,899.5 365.6,899.5 366.6,899.5 366.6,899.5 367.6,899.5 367.6,899.5 368.6,899.5 368.0,901.0" fill="#0000ff"/>
<rect x="60.75" y="880.40" width="1.3" height="20.40" fill="#0000ff"/>
<rect x="61.65" y="884.10" width="1.3" height="16.70" fill="#0000ff"/>
<rect x="66.65" y="887.60" width="1.3" height="13.20" fill="#0000ff"/>
<rect x="68.05" y="889.00" width="1.3" height="11.80" fill="#0000ff"/>
<rect x="70.15" y="856.90" width="1.3" height="43.90" fill="#0000ff"/>
<rect x="70.95" y="873.60" width="1.3" height="27.20" fill="#0000ff"/>
<rect x="73.05" y="885.30" width="1.3" height="15.50" fill="#0000ff"/>
<rect x="73.85" y="886.50" width="1.3" height="14.30" fill="#0000ff"/>
<rect x="75.95" y="877.10" width="1.3" height="23.70" fill="#0000ff"/>
<rect x="82.05" y="892.30" width="1.3" height="8.50" fill="#0000ff"/>
<rect x="82.85" y="873.20" width="1.3" height="27.60" fill="#0000ff"/>
<rect x="84.35" y="898.00" width="1.3" height="2.80" fill="#0000ff"/>
<rect x="89.95" y="873.20" width="1.3" height="27.60" fill="#0000ff"/>
<rect x="90.85" y="881.80" width="1.3" height="19.00" fill="#0000ff"/>
<rect x="93.35" y="861.30" width="1.3" height="39.50" fill="#0000ff"/>
<rect x="94.35" y="884.10" width="1.3" height="16.70" fill="#0000ff"/>
<rect x="95.45" y="887.60" width="1.3" height="13.20" fill="#0000ff"/>
<rect x="96.65" y="880.90" width="1.3" height="19.90" fill="#0000ff"/>
<rect x="98.35" y="871.80" width="1.3" height="29.00" fill="#0000ff"/>
<rect x="100.35" y="806.80" width="1.3" height="94.00" fill="#0000ff"/>
<rect x="101.35" y="830.40" width="1.3" height="70.40" fill="#0000ff"/>
<rect x="104.25" y="885.30" width="1.3" height="15.50" fill="#0000ff"/>
<rect x="106.95" y="890.00" width="1.3" height="10.80" fill="#0000ff"/>
<rect x="108.35" y="875.30" width="1.3" height="25.50" fill="#0000ff"/>
<rect x="110.65" y="844.10" width="1.3" height="56.70" fill="#0000ff"/>
<rect x="112.45" y="865.40" width="1.3" height="35.40" fill="#0000ff"/>
<rect x="114.25" y="841.50" width="1.3" height="59.30" fill="#0000ff"/>
<rect x="115.65" y="877.10" width="1.3" height="23.70" fill="#0000ff"/>
<rect x="116.85" y="890.00" width="1.3" height="10.80" fill="#0000ff"/>
<rect x="119.15" y="883.20" width="1.3" height="17.60" fill="#0000ff"/>
<rect x="120.55" y="890.00" width="1.3" height="10.80" fill="#0000ff"/>
<rect x="122.65" y="887.00" width="1.3" height="13.80" fill="#0000ff"/>
<rect x="125.05" y="872.20" width="1.3" height="28.60" fill="#0000ff"/>
<rect x="126.45" y="874.20" width="1.3" height="26.60" fill="#0000ff"/>
<rect x="128.65" y="851.70" width="1.3" height="49.10" fill="#0000ff"/>
<rect x="133.15" y="850.20" width="1.3" height="50.60" fill="#0000ff"/>
<rect x="134.35" y="874.70" width="1.3" height="26.10" fill="#0000ff"/>
<rect x="137.25" y="857.20" width="1.3" height="43.60" fill="#0000ff"/>
<rect x="138.45" y="874.20" width="1.3" height="26.60" fill="#0000ff"/>
<rect x="141.35" y="873.80" width="1.3" height="27.00" fill="#0000ff"/>
<rect x="144.85" y="879.40" width="1.3" height="21.40" fill="#0000ff"/>
<rect x="147.25" y="871.50" width="1.3" height="29.30" fill="#0000ff"/>
<rect x="148.95" y="882.90" width="1.3" height="17.90" fill="#0000ff"/>
<rect x="152.15" y="853.10" width="1.3" height="47.70" fill="#0000ff"/>
<rect x="154.25" y="884.10" width="1.3" height="16.70" fill="#0000ff"/>
<rect x="157.75" y="880.00" width="1.3" height="20.80" fill="#0000ff"/>
<rect x="159.15" y="870.10" width="1.3" height="30.70" fill="#0000ff"/>
<rect x="161.25" y="887.00" width="1.3" height="13.80" fill="#0000ff"/>
<rect x="164.75" y="889.30" width="1.3" height="11.50" fill="#0000ff"/>
<rect x="167.85" y="864.80" width="1.3" height="36.00" fill="#0000ff"/>
<rect x="171.75" y="879.20" width="1.3" height="21.60" fill="#0000ff"/>
<rect x="174.05" y="875.30" width="1.3" height="25.50" fill="#0000ff"/>
<rect x="175.55" y="756.60" width="1.3" height="144.20" fill="#0000ff"/>
<rect x="178.15" y="866.80" width="1.3" height="34.00" fill="#0000ff"/>
<rect x="182.25" y="885.30" width="1.3" height="15.50" fill="#0000ff"/>
<rect x="185.15" y="880.00" width="1.3" height="20.80" fill="#0000ff"/>
<rect x="186.35" y="874.20" width="1.3" height="26.60" fill="#0000ff"/>
<rect x="188.05" y="889.30" width="1.3" height="11.50" fill="#0000ff"/>
<rect x="192.75" y="854.90" width="1.3" height="45.90" fill="#0000ff"/>
<rect x="194.15" y="858.40" width="1.3" height="42.40" fill="#0000ff"/>
<rect x="196.25" y="875.90" width="1.3" height="24.90" fill="#0000ff"/>
<rect x="198.05" y="882.90" width="1.3" height="17.90" fill="#0000ff"/>
<rect x="200.95" y="854.90" width="1.3" height="45.90" fill="#0000ff"/>
<rect x="202.65" y="874.70" width="1.3" height="26.10" fill="#0000ff"/>
<rect x="204.45" y="882.90" width="1.3" height="17.90" fill="#0000ff"/>
<rect x="206.75" y="861.90" width="1.3" height="38.90" fill="#0000ff"/>
<rect x="207.65" y="860.70" width="1.3" height="40.10" fill="#0000ff"/>
<rect x="209.45" y="849.10" width="1.3" height="51.70" fill="#0000ff"/>
<rect x="210.65" y="849.10" width="1.3" height="51.70" fill="#0000ff"/>
<rect x="211.75" y="848.50" width="1.3" height="52.30" fill="#0000ff"/>
<rect x="212.95" y="867.70" width="1.3" height="33.10" fill="#0000ff"/>
<rect x="214.15" y="870.10" width="1.3" height="30.70" fill="#0000ff"/>
<rect x="215.85" y="888.80" width="1.3" height="12.00" fill="#0000ff"/>
<rect x="218.15" y="872.40" width="1.3" height="28.40" fill="#0000ff"/>
<rect x="219.95" y="867.70" width="1.3" height="33.10" fill="#0000ff"/>
<rect x="221.75" y="860.70" width="1.3" height="40.10" fill="#0000ff"/>
<rect x="222.85" y="877.10" width="1.3" height="23.70" fill="#0000ff"/>
<rect x="224.65" y="850.80" width="1.3" height="50.00" fill="#0000ff"/>
<rect x="225.75" y="875.90" width="1.3" height="24.90" fill="#0000ff"/>
<rect x="227.55" y="874.70" width="1.3" height="26.10" fill="#0000ff"/>
<rect x="229.25" y="888.80" width="1.3" height="12.00" fill="#0000ff"/>
<rect x="230.45" y="879.40" width="1.3" height="21.40" fill="#0000ff"/>
<rect x="231.65" y="852.00" width="1.3" height="48.80" fill="#0000ff"/>
<rect x="233.35" y="880.60" width="1.3" height="20.20" fill="#0000ff"/>
<rect x="234.55" y="875.90" width="1.3" height="24.90" fill="#0000ff"/>
<rect x="235.75" y="884.10" width="1.3" height="16.70" fill="#0000ff"/>
<rect x="237.15" y="867.20" width="1.3" height="33.60" fill="#0000ff"/>
<rect x="238.65" y="889.90" width="1.3" height="10.90" fill="#0000ff"/>
<rect x="240.35" y="842.00" width="1.3" height="58.80" fill="#0000ff"/>
<rect x="241.55" y="852.60" width="1.3" height="48.20" fill="#0000ff"/>
<rect x="243.85" y="881.80" width="1.3" height="19.00" fill="#0000ff"/>
<rect x="246.25" y="823.90" width="1.3" height="76.90" fill="#0000ff"/>
<rect x="247.35" y="870.10" width="1.3" height="30.70" fill="#0000ff"/>
<rect x="249.15" y="891.10" width="1.3" height="9.70" fill="#0000ff"/>
<rect x="251.45" y="884.10" width="1.3" height="16.70" fill="#0000ff"/>
<rect x="253.85" y="878.30" width="1.3" height="22.50" fill="#0000ff"/>
<rect x="255.55" y="888.80" width="1.3" height="12.00" fill="#0000ff"/>
<rect x="257.95" y="873.00" width="1.3" height="27.80" fill="#0000ff"/>
<rect x="260.25" y="886.40" width="1.3" height="14.40" fill="#0000ff"/>
<rect x="261.95" y="850.20" width="1.3" height="50.60" fill="#0000ff"/>
<rect x="263.75" y="846.70" width="1.3" height="54.10" fill="#0000ff"/>
<rect x="265.45" y="847.30" width="1.3" height="53.50" fill="#0000ff"/>
<rect x="267.25" y="860.70" width="1.3" height="40.10" fill="#0000ff"/>
<rect x="268.45" y="884.10" width="1.3" height="16.70" fill="#0000ff"/>
<rect x="270.15" y="891.10" width="1.3" height="9.70" fill="#0000ff"/>
<rect x="272.55" y="881.80" width="1.3" height="19.00" fill="#0000ff"/>
<rect x="274.85" y="845.00" width="1.3" height="55.80" fill="#0000ff"/>
<rect x="276.55" y="880.60" width="1.3" height="20.20" fill="#0000ff"/>
<rect x="278.35" y="842.00" width="1.3" height="58.80" fill="#0000ff"/>
<rect x="280.05" y="870.10" width="1.3" height="30.70" fill="#0000ff"/>
<rect x="281.85" y="862.50" width="1.3" height="38.30" fill="#0000ff"/>
<rect x="283.35" y="859.60" width="1.3" height="41.20" fill="#0000ff"/>
<rect x="284.75" y="850.80" width="1.3" height="50.00" fill="#0000ff"/>
<rect x="285.75" y="795.90" width="1.3" height="104.90" fill="#0000ff"/>
<rect x="287.95" y="856.90" width="1.3" height="43.90" fill="#0000ff"/>
<rect x="289.35" y="889.40" width="1.3" height="11.40" fill="#0000ff"/>
<rect x="291.05" y="878.80" width="1.3" height="22.00" fill="#0000ff"/>
<rect x="292.35" y="878.80" width="1.3" height="22.00" fill="#0000ff"/>
<rect x="294.65" y="879.40" width="1.3" height="21.40" fill="#0000ff"/>
<rect x="296.35" y="878.80" width="1.3" height="22.00" fill="#0000ff"/>
<rect x="298.15" y="884.10" width="1.3" height="16.70" fill="#0000ff"/>
<rect x="301.95" y="870.10" width="1.3" height="30.70" fill="#0000ff"/>
<rect x="303.85" y="837.00" width="1.3" height="63.80" fill="#0000ff"/>
<rect x="305.25" y="872.80" width="1.3" height="28.00" fill="#0000ff"/>
<rect x="307.25" y="877.40" width="1.3" height="23.40" fill="#0000ff"/>
<rect x="309.45" y="843.00" width="1.3" height="57.80" fill="#0000ff"/>
<rect x="310.55" y="896.60" width="1.3" height="4.20" fill="#0000ff"/>
<rect x="318.45" y="882.00" width="1.3" height="18.80" fill="#0000ff"/>
<rect x="320.85" y="847.60" width="1.3" height="53.20" fill="#0000ff"/>
<rect x="322.75" y="814.70" width="1.3" height="86.10" fill="#0000ff"/>
<rect x="326.45" y="867.50" width="1.3" height="33.30" fill="#0000ff"/>
<rect x="330.35" y="890.00" width="1.3" height="10.80" fill="#0000ff"/>
<rect x="331.35" y="876.80" width="1.3" height="24.00" fill="#0000ff"/>
<rect x="334.35" y="892.70" width="1.3" height="8.10" fill="#0000ff"/>
<rect x="335.75" y="892.00" width="1.3" height="8.80" fill="#0000ff"/>
<rect x="339.05" y="882.00" width="1.3" height="18.80" fill="#0000ff"/>
<rect x="346.35" y="835.00" width="1.3" height="65.80" fill="#0000ff"/>
<rect x="349.25" y="821.10" width="1.3" height="79.70" fill="#0000ff"/>
<rect x="350.25" y="887.40" width="1.3" height="13.40" fill="#0000ff"/>
<rect x="366.55" y="731.50" width="1.3" height="169.30" fill="#0000ff"/>
<line x1="49.60" y1="732.20" x2="49.60" y2="901.80" stroke="#1a1a1a" stroke-width="1.6" />
<line x1="48.80" y1="901.00" x2="372.60" y2="901.00" stroke="#1a1a1a" stroke-width="1.6" />
<line x1="44.20" y1="766.00" x2="49.60" y2="766.00" stroke="#1a1a1a" stroke-width="1.5" />
<line x1="44.20" y1="900.80" x2="49.60" y2="900.80" stroke="#1a1a1a" stroke-width="1.5" />
<text x="42.6" y="771.1" font-size="11.3" fill="#1a1a1a" text-anchor="end">2x10<tspan font-size="8.5" dy="-4.5">5</tspan></text>
<text x="42.20" y="904.50" font-size="11" font-weight="normal" fill="#1a1a1a" text-anchor="end" >0</text>
<line x1="49.90" y1="901.00" x2="49.90" y2="905.00" stroke="#1a1a1a" stroke-width="1.5" />
<text x="49.90" y="918.00" font-size="11" font-weight="normal" fill="#1a1a1a" text-anchor="middle" >50</text>
<line x1="101.00" y1="901.00" x2="101.00" y2="905.00" stroke="#1a1a1a" stroke-width="1.5" />
<text x="101.00" y="918.00" font-size="11" font-weight="normal" fill="#1a1a1a" text-anchor="middle" >100</text>
<line x1="150.80" y1="901.00" x2="150.80" y2="905.00" stroke="#1a1a1a" stroke-width="1.5" />
<text x="150.80" y="918.00" font-size="11" font-weight="normal" fill="#1a1a1a" text-anchor="middle" >150</text>
<line x1="201.30" y1="901.00" x2="201.30" y2="905.00" stroke="#1a1a1a" stroke-width="1.5" />
<text x="201.30" y="918.00" font-size="11" font-weight="normal" fill="#1a1a1a" text-anchor="middle" >200</text>
<line x1="251.50" y1="901.00" x2="251.50" y2="905.00" stroke="#1a1a1a" stroke-width="1.5" />
<text x="251.50" y="918.00" font-size="11" font-weight="normal" fill="#1a1a1a" text-anchor="middle" >250</text>
<line x1="302.60" y1="901.00" x2="302.60" y2="905.00" stroke="#1a1a1a" stroke-width="1.5" />
<text x="302.60" y="918.00" font-size="11" font-weight="normal" fill="#1a1a1a" text-anchor="middle" >300</text>
<line x1="352.80" y1="901.00" x2="352.80" y2="905.00" stroke="#1a1a1a" stroke-width="1.5" />
<text x="352.80" y="918.00" font-size="11" font-weight="normal" fill="#1a1a1a" text-anchor="middle" >350</text>
<text x="213.80" y="929.60" font-size="11" font-weight="bold" fill="#1a1a1a" text-anchor="middle" >m/z</text>
<text transform="translate(106.50,801.80) rotate(-90)" font-size="11" fill="#1a1a1a">101</text>
<text transform="translate(204.70,848.40) rotate(-90)" font-size="11" fill="#1a1a1a">199</text>
<text transform="translate(223.10,865.00) rotate(-90)" font-size="11" fill="#1a1a1a">217</text>
<text transform="translate(231.00,844.00) rotate(-90)" font-size="11" fill="#1a1a1a">227</text>
<text transform="translate(239.40,821.20) rotate(-90)" font-size="11" fill="#1a1a1a">243</text>
<text transform="translate(252.00,823.90) rotate(-90)" font-size="11" fill="#1a1a1a">245</text>
<text transform="translate(266.90,842.30) rotate(-90)" font-size="11" fill="#1a1a1a">261</text>
<text transform="translate(300.00,874.00) rotate(-90)" font-size="11" fill="#1a1a1a">289</text>
<text transform="translate(245.90,802.00) rotate(-90)" font-size="11" fill="#ff0000">244</text>
<text transform="translate(276.90,841.40) rotate(-90)" font-size="11" fill="#ff0000">262</text>
<text transform="translate(290.20,794.10) rotate(-90)" font-size="11" fill="#ff0000">284</text>
<text transform="translate(308.60,835.90) rotate(-90)" font-size="11" fill="#ff0000">302</text>
<text transform="translate(326.30,813.80) rotate(-90)" font-size="11" fill="#ff0000">320</text>
<text transform="translate(333.10,866.30) rotate(-90)" font-size="11" fill="#ff0000">329</text>
<text transform="translate(354.10,820.30) rotate(-90)" font-size="11" fill="#ff0000">346</text>
<text transform="translate(362.90,755.00) rotate(-90)" font-size="11" fill="#ff0000">364</text>
<line x1="236.90" y1="822.80" x2="245.70" y2="881.80" stroke="#1a1a1a" stroke-width="1.4" />
<line x1="240.50" y1="801.20" x2="247.50" y2="872.40" stroke="#1a1a1a" stroke-width="1.4" />
<line x1="264.20" y1="843.20" x2="263.80" y2="860.70" stroke="#1a1a1a" stroke-width="1.4" />
<line x1="272.60" y1="840.30" x2="267.90" y2="861.30" stroke="#1a1a1a" stroke-width="1.4" />
<line x1="293.30" y1="874.80" x2="295.30" y2="877.40" stroke="#1a1a1a" stroke-width="1.4" />
<text x="386.60" y="704.50" font-size="20" font-weight="bold" fill="#1a1a1a" text-anchor="start" >D</text>
<line x1="439.60" y1="733.10" x2="439.60" y2="907.80" stroke="#1a1a1a" stroke-width="1.7" />
<line x1="438.80" y1="907.00" x2="680.20" y2="907.00" stroke="#1a1a1a" stroke-width="1.7" />
<line x1="439.60" y1="882.60" x2="450.20" y2="882.60" stroke="#1a1a1a" stroke-width="1.6" />
<line x1="439.60" y1="857.70" x2="450.20" y2="857.70" stroke="#1a1a1a" stroke-width="1.6" />
<line x1="439.60" y1="832.80" x2="450.20" y2="832.80" stroke="#1a1a1a" stroke-width="1.6" />
<line x1="439.60" y1="807.90" x2="450.20" y2="807.90" stroke="#1a1a1a" stroke-width="1.6" />
<line x1="439.60" y1="783.00" x2="450.20" y2="783.00" stroke="#1a1a1a" stroke-width="1.6" />
<line x1="439.60" y1="758.10" x2="450.20" y2="758.10" stroke="#1a1a1a" stroke-width="1.6" />
<line x1="439.60" y1="733.20" x2="450.20" y2="733.20" stroke="#1a1a1a" stroke-width="1.6" />
<line x1="439.60" y1="733.30" x2="450.20" y2="733.30" stroke="#1a1a1a" stroke-width="1.6" />
<text x="434.20" y="909.50" font-size="11.2" font-weight="normal" fill="#1a1a1a" text-anchor="end" >0</text>
<text x="434.20" y="859.70" font-size="11.2" font-weight="normal" fill="#1a1a1a" text-anchor="end" >1</text>
<text x="434.20" y="809.90" font-size="11.2" font-weight="normal" fill="#1a1a1a" text-anchor="end" >2</text>
<text x="434.20" y="760.10" font-size="11.2" font-weight="normal" fill="#1a1a1a" text-anchor="end" >3</text>
<line x1="473.40" y1="907.00" x2="473.40" y2="897.50" stroke="#1a1a1a" stroke-width="1.6" />
<line x1="508.20" y1="907.00" x2="508.20" y2="897.50" stroke="#1a1a1a" stroke-width="1.6" />
<line x1="541.90" y1="907.00" x2="541.90" y2="897.50" stroke="#1a1a1a" stroke-width="1.6" />
<line x1="575.90" y1="907.00" x2="575.90" y2="897.50" stroke="#1a1a1a" stroke-width="1.6" />
<line x1="609.60" y1="907.00" x2="609.60" y2="897.50" stroke="#1a1a1a" stroke-width="1.6" />
<line x1="644.40" y1="907.00" x2="644.40" y2="897.50" stroke="#1a1a1a" stroke-width="1.6" />
<line x1="678.40" y1="907.00" x2="678.40" y2="897.50" stroke="#1a1a1a" stroke-width="1.6" />
<text x="472.20" y="919.30" font-size="11" font-weight="normal" fill="#1a1a1a" text-anchor="middle" >300</text>
<text x="574.70" y="919.30" font-size="11" font-weight="normal" fill="#1a1a1a" text-anchor="middle" >600</text>
<text x="675.30" y="919.30" font-size="11" font-weight="normal" fill="#1a1a1a" text-anchor="middle" >900</text>
<line x1="460.60" y1="924.30" x2="685.00" y2="924.30" stroke="#1a1a1a" stroke-width="1.6" />
<text x="581.90" y="939.80" font-size="11.2" font-weight="bold" fill="#1a1a1a" text-anchor="middle" >DHA concentration (nM)</text>
<text transform="translate(394.0,804.8) rotate(-90)" font-size="11" font-weight="bold" fill="#1a1a1a" text-anchor="middle">Relative abundance to the</text>
<text transform="translate(407.0,806.5) rotate(-90)" font-size="11" font-weight="bold" fill="#1a1a1a" text-anchor="middle">300nM sample</text>
<line x1="472.80" y1="852.80" x2="678.50" y2="794.30" stroke="#ed7d31" stroke-width="1.5" />
<line x1="472.80" y1="854.00" x2="678.50" y2="762.00" stroke="#5b9bd5" stroke-width="1.5" />
<line x1="472.80" y1="851.60" x2="678.50" y2="763.20" stroke="#ffc000" stroke-width="1.5" />
<line x1="472.80" y1="849.60" x2="678.50" y2="740.50" stroke="#f4511e" stroke-width="1.5" />
<line x1="472.80" y1="855.40" x2="678.50" y2="867.80" stroke="#ee1c24" stroke-width="1.5" />
<line x1="472.80" y1="857.80" x2="678.50" y2="853.30" stroke="#7030a0" stroke-width="1.5" />
<line x1="472.80" y1="857.80" x2="678.50" y2="853.00" stroke="#1f2f8f" stroke-width="1.5" />
<circle cx="473.4" cy="860.2" r="2.9" fill="#ed7d31"/>
<circle cx="473.4" cy="860.4" r="2.7" fill="#3a6fc8"/>
<polygon points="573.00,782.11 578.80,782.11 575.90,776.60" fill="#f4511e" stroke="#f4511e" stroke-width="0.8" stroke-linejoin="round"/>
<circle cx="575.9" cy="795.4" r="2.3" fill="#ffc000"/>
<circle cx="575.9" cy="803.9" r="2.4" fill="#5b9bd5"/>
<rect x="573.20" y="813.10" width="5.4" height="5.4" rx="0.8" fill="#ed7d31"/>
<circle cx="575.9" cy="856.1" r="2.5" fill="#2f3596"/>
<polygon points="675.10,753.11 680.90,753.11 678.00,747.60" fill="#f4511e" stroke="#f4511e" stroke-width="0.8" stroke-linejoin="round"/>
<circle cx="678.5" cy="764.8" r="2.2" fill="#5b9bd5"/>
<circle cx="678" cy="770.6" r="2.3" fill="#ffc000"/>
<rect x="675.30" y="797.30" width="5.4" height="5.4" rx="0.8" fill="#ed7d31"/>
<circle cx="678.5" cy="855.7" r="2.5" fill="#3a4fb8"/>
<rect x="676.60" y="868.60" width="2.8" height="2.8" rx="0.8" fill="#1f2f8f"/>
<line x1="467.3" y1="723.40" x2="483.3" y2="723.40" stroke="#5b9bd5" stroke-width="2.9" stroke-linecap="round"/>
<text x="488.60" y="727.70" font-size="11.4" font-weight="normal" fill="#1a1a1a" text-anchor="start" >17HDHA</text>
<line x1="467.3" y1="736.35" x2="483.3" y2="736.35" stroke="#ed7d31" stroke-width="2.9" stroke-linecap="round"/>
<text x="488.60" y="740.65" font-size="11.4" font-weight="normal" fill="#1a1a1a" text-anchor="start" >DHA</text>
<line x1="467.3" y1="749.30" x2="483.3" y2="749.30" stroke="#f4511e" stroke-width="2.9" stroke-linecap="round"/>
<text x="488.60" y="753.60" font-size="11.4" font-weight="normal" fill="#1a1a1a" text-anchor="start" >RvD6si</text>
<line x1="467.3" y1="762.25" x2="483.3" y2="762.25" stroke="#ffc000" stroke-width="2.9" stroke-linecap="round"/>
<text x="488.60" y="766.55" font-size="11.4" font-weight="normal" fill="#1a1a1a" text-anchor="start" >14HDHA</text>
<line x1="467.3" y1="775.20" x2="483.3" y2="775.20" stroke="#ee1c24" stroke-width="2.9" stroke-linecap="round"/>
<text x="488.60" y="779.50" font-size="11.4" font-weight="normal" fill="#1a1a1a" text-anchor="start" >AA</text>
<line x1="467.3" y1="788.15" x2="483.3" y2="788.15" stroke="#7030a0" stroke-width="2.9" stroke-linecap="round"/>
<text x="488.60" y="792.45" font-size="11.4" font-weight="normal" fill="#1a1a1a" text-anchor="start" >15 HETE</text>
<line x1="467.3" y1="801.10" x2="483.3" y2="801.10" stroke="#1f2f8f" stroke-width="2.9" stroke-linecap="round"/>
<text x="488.60" y="805.40" font-size="11.4" font-weight="normal" fill="#1a1a1a" text-anchor="start" >12 HETE</text>
</svg>
</body></html>
